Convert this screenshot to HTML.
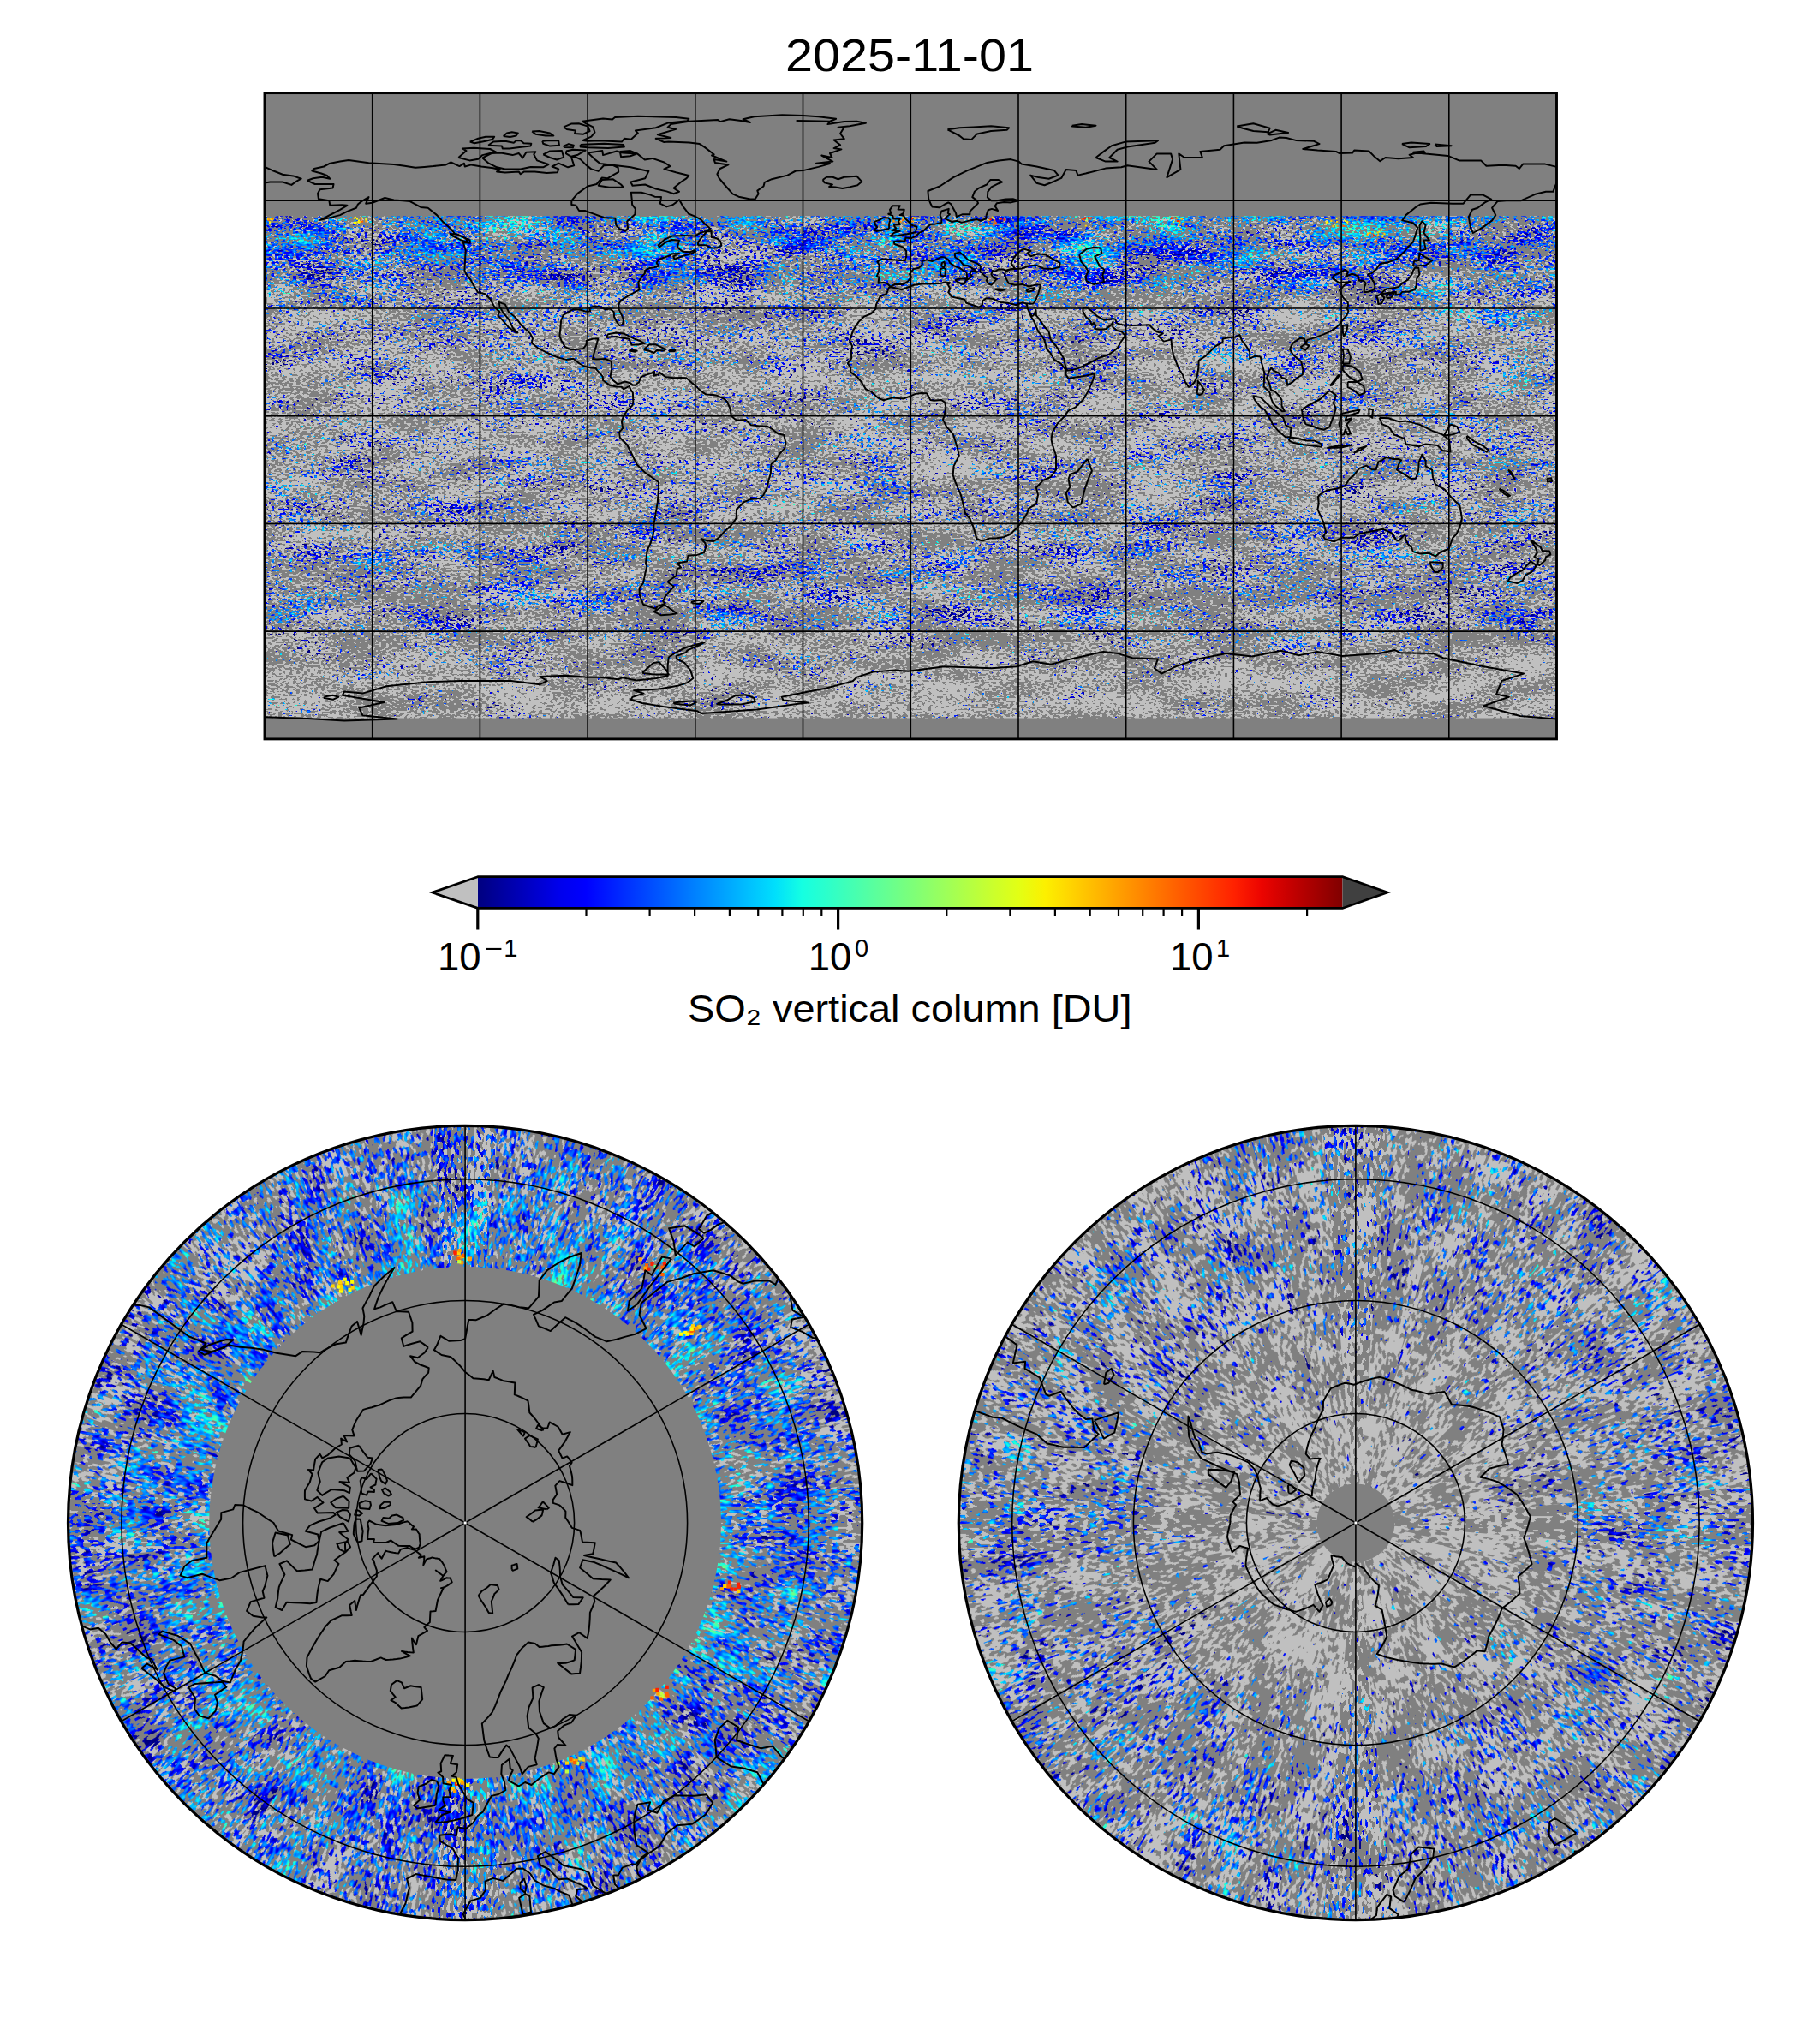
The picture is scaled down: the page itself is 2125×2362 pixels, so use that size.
<!DOCTYPE html>
<html><head><meta charset="utf-8"><title>SO2 2025-11-01</title>
<style>html,body{margin:0;padding:0;background:#fff;} svg{display:block;}</style></head>
<body>
<svg width="2125" height="2362" viewBox="0 0 2125 2362">
<defs>
<filter id="tex" x="0" y="0" width="1" height="1" color-interpolation-filters="sRGB">
  <feTurbulence type="fractalNoise" baseFrequency="0.24 0.42" numOctaves="1" seed="3" result="tf"/>
  <feTurbulence type="fractalNoise" baseFrequency="0.012 0.04" numOctaves="3" seed="7" result="tc"/>
  <feColorMatrix in="tf" type="matrix" values="0 0 0 1 0  1 0 0 0 0  0 0.5 0 0 0.25  0 0 0 0 1" result="F"/>
  <feColorMatrix in="tc" type="matrix" values="0 0 0 0.45 0.275  0.45 0 0 0 0.275  0 0.5 0 0 0.25  0 0 0 0 1" result="C"/>
  <feComposite in="F" in2="C" operator="arithmetic" k2="1" k3="1" k4="-0.5" result="N"/>
  <feComposite in="N" in2="SourceGraphic" operator="arithmetic" k2="1" k3="1" k4="-0.5" result="S"/>
  <feColorMatrix in="S" type="matrix" values="0 0 0 0 0.7529  0 0 0 0 0.7529  0 0 0 0 0.7529  1 0 0 0 0" result="lgA"/>
  <feComponentTransfer in="lgA" result="lg"><feFuncA type="discrete" tableValues="0 1"/></feComponentTransfer>
  <feColorMatrix in="S" type="matrix" values="0 0 1 0 0  0 0 1 0 0  0 0 1 0 0  0 1 0 0 0" result="cA"/>
  <feComponentTransfer in="cA" result="col">
    <feFuncR type="table" tableValues="0.000 0.000 0.000 0.000 0.000 0.000 0.000 0.000 0.000 0.000 0.000 0.000 0.000 0.000 0.000 0.000 0.000 0.000 0.000 0.000 0.000 0.000 0.000 0.000 0.000 0.000 0.000 0.000 0.000 0.000 0.000 0.000 0.000 0.000 0.000 0.000 0.032 0.065 0.097 0.129 0.161 0.194 0.226 0.258 0.290 0.323 0.355 0.387 0.419 0.452 0.484 0.516 0.548 0.581 0.613 0.645 0.677 0.710 0.742 0.774 0.806 0.839 0.871 0.903 0.935 0.968 1.000 1.000 1.000 1.000 1.000 1.000 1.000 1.000 1.000 1.000 1.000 1.000 1.000 1.000 1.000 1.000 1.000 1.000 1.000 1.000 1.000 1.000 1.000 1.000 0.955 0.909 0.864 0.818 0.773 0.727 0.682 0.636 0.591 0.545 0.500"/>
    <feFuncG type="table" tableValues="0.000 0.000 0.000 0.000 0.000 0.000 0.000 0.000 0.000 0.000 0.000 0.000 0.000 0.020 0.060 0.100 0.140 0.180 0.220 0.260 0.300 0.340 0.380 0.420 0.460 0.500 0.540 0.580 0.620 0.660 0.700 0.740 0.780 0.820 0.860 0.900 0.940 0.980 1.000 1.000 1.000 1.000 1.000 1.000 1.000 1.000 1.000 1.000 1.000 1.000 1.000 1.000 1.000 1.000 1.000 1.000 1.000 1.000 1.000 1.000 1.000 1.000 1.000 1.000 1.000 0.963 0.926 0.889 0.852 0.815 0.778 0.741 0.704 0.667 0.630 0.593 0.556 0.519 0.481 0.444 0.407 0.370 0.333 0.296 0.259 0.222 0.185 0.148 0.111 0.074 0.037 0.000 0.000 0.000 0.000 0.000 0.000 0.000 0.000 0.000 0.000"/>
    <feFuncB type="table" tableValues="0.500 0.545 0.591 0.636 0.682 0.727 0.773 0.818 0.864 0.909 0.955 1.000 1.000 1.000 1.000 1.000 1.000 1.000 1.000 1.000 1.000 1.000 1.000 1.000 1.000 1.000 1.000 1.000 1.000 1.000 1.000 1.000 1.000 1.000 1.000 0.968 0.935 0.903 0.871 0.839 0.806 0.774 0.742 0.710 0.677 0.645 0.613 0.581 0.548 0.516 0.484 0.452 0.419 0.387 0.355 0.323 0.290 0.258 0.226 0.194 0.161 0.129 0.097 0.065 0.032 0.000 0.000 0.000 0.000 0.000 0.000 0.000 0.000 0.000 0.000 0.000 0.000 0.000 0.000 0.000 0.000 0.000 0.000 0.000 0.000 0.000 0.000 0.000 0.000 0.000 0.000 0.000 0.000 0.000 0.000 0.000 0.000 0.000 0.000 0.000 0.000"/>
    <feFuncA type="discrete" tableValues="0 1"/>
  </feComponentTransfer>
  <feFlood flood-color="#808080" result="bg"/>
  <feMerge><feMergeNode in="bg"/><feMergeNode in="lg"/><feMergeNode in="col"/></feMerge>
</filter>
<filter id="texN" x="0" y="0" width="1" height="1" color-interpolation-filters="sRGB">
  <feTurbulence type="fractalNoise" baseFrequency="0.26 0.12" numOctaves="1" seed="5" result="tf"/>
  <feTurbulence type="fractalNoise" baseFrequency="0.026 0.017" numOctaves="3" seed="9" result="tc"/>
  <feColorMatrix in="tf" type="matrix" values="0 0 0 1 0  1 0 0 0 0  0 0.5 0 0 0.25  0 0 0 0 1" result="F"/>
  <feColorMatrix in="tc" type="matrix" values="0 0 0 0.6 0.200  0.36 0 0 0 0.320  0 0.5 0 0 0.25  0 0 0 0 1" result="C"/>
  <feComposite in="F" in2="C" operator="arithmetic" k2="1" k3="1" k4="-0.5" result="N"/>
  <feComposite in="N" in2="SourceGraphic" operator="arithmetic" k2="1" k3="1" k4="-0.5" result="S"/>
  <feColorMatrix in="S" type="matrix" values="0 0 0 0 0.7529  0 0 0 0 0.7529  0 0 0 0 0.7529  1 0 0 0 0" result="lgA"/>
  <feComponentTransfer in="lgA" result="lg"><feFuncA type="discrete" tableValues="0 1"/></feComponentTransfer>
  <feColorMatrix in="S" type="matrix" values="0 0 1 0 0  0 0 1 0 0  0 0 1 0 0  0 1 0 0 0" result="cA"/>
  <feComponentTransfer in="cA" result="col">
    <feFuncR type="table" tableValues="0.000 0.000 0.000 0.000 0.000 0.000 0.000 0.000 0.000 0.000 0.000 0.000 0.000 0.000 0.000 0.000 0.000 0.000 0.000 0.000 0.000 0.000 0.000 0.000 0.000 0.000 0.000 0.000 0.000 0.000 0.000 0.000 0.000 0.000 0.000 0.000 0.032 0.065 0.097 0.129 0.161 0.194 0.226 0.258 0.290 0.323 0.355 0.387 0.419 0.452 0.484 0.516 0.548 0.581 0.613 0.645 0.677 0.710 0.742 0.774 0.806 0.839 0.871 0.903 0.935 0.968 1.000 1.000 1.000 1.000 1.000 1.000 1.000 1.000 1.000 1.000 1.000 1.000 1.000 1.000 1.000 1.000 1.000 1.000 1.000 1.000 1.000 1.000 1.000 1.000 0.955 0.909 0.864 0.818 0.773 0.727 0.682 0.636 0.591 0.545 0.500"/>
    <feFuncG type="table" tableValues="0.000 0.000 0.000 0.000 0.000 0.000 0.000 0.000 0.000 0.000 0.000 0.000 0.000 0.020 0.060 0.100 0.140 0.180 0.220 0.260 0.300 0.340 0.380 0.420 0.460 0.500 0.540 0.580 0.620 0.660 0.700 0.740 0.780 0.820 0.860 0.900 0.940 0.980 1.000 1.000 1.000 1.000 1.000 1.000 1.000 1.000 1.000 1.000 1.000 1.000 1.000 1.000 1.000 1.000 1.000 1.000 1.000 1.000 1.000 1.000 1.000 1.000 1.000 1.000 1.000 0.963 0.926 0.889 0.852 0.815 0.778 0.741 0.704 0.667 0.630 0.593 0.556 0.519 0.481 0.444 0.407 0.370 0.333 0.296 0.259 0.222 0.185 0.148 0.111 0.074 0.037 0.000 0.000 0.000 0.000 0.000 0.000 0.000 0.000 0.000 0.000"/>
    <feFuncB type="table" tableValues="0.500 0.545 0.591 0.636 0.682 0.727 0.773 0.818 0.864 0.909 0.955 1.000 1.000 1.000 1.000 1.000 1.000 1.000 1.000 1.000 1.000 1.000 1.000 1.000 1.000 1.000 1.000 1.000 1.000 1.000 1.000 1.000 1.000 1.000 1.000 0.968 0.935 0.903 0.871 0.839 0.806 0.774 0.742 0.710 0.677 0.645 0.613 0.581 0.548 0.516 0.484 0.452 0.419 0.387 0.355 0.323 0.290 0.258 0.226 0.194 0.161 0.129 0.097 0.065 0.032 0.000 0.000 0.000 0.000 0.000 0.000 0.000 0.000 0.000 0.000 0.000 0.000 0.000 0.000 0.000 0.000 0.000 0.000 0.000 0.000 0.000 0.000 0.000 0.000 0.000 0.000 0.000 0.000 0.000 0.000 0.000 0.000 0.000 0.000 0.000 0.000"/>
    <feFuncA type="discrete" tableValues="0 1"/>
  </feComponentTransfer>
  <feFlood flood-color="#808080" result="bg"/>
  <feMerge><feMergeNode in="bg"/><feMergeNode in="lg"/><feMergeNode in="col"/></feMerge>
</filter>
<filter id="texS" x="0" y="0" width="1" height="1" color-interpolation-filters="sRGB">
  <feTurbulence type="fractalNoise" baseFrequency="0.26 0.12" numOctaves="1" seed="13" result="tf"/>
  <feTurbulence type="fractalNoise" baseFrequency="0.026 0.017" numOctaves="3" seed="17" result="tc"/>
  <feColorMatrix in="tf" type="matrix" values="0 0 0 1 0  1 0 0 0 0  0 0.5 0 0 0.25  0 0 0 0 1" result="F"/>
  <feColorMatrix in="tc" type="matrix" values="0 0 0 0.6 0.200  0.36 0 0 0 0.320  0 0.5 0 0 0.25  0 0 0 0 1" result="C"/>
  <feComposite in="F" in2="C" operator="arithmetic" k2="1" k3="1" k4="-0.5" result="N"/>
  <feComposite in="N" in2="SourceGraphic" operator="arithmetic" k2="1" k3="1" k4="-0.5" result="S"/>
  <feColorMatrix in="S" type="matrix" values="0 0 0 0 0.7529  0 0 0 0 0.7529  0 0 0 0 0.7529  1 0 0 0 0" result="lgA"/>
  <feComponentTransfer in="lgA" result="lg"><feFuncA type="discrete" tableValues="0 1"/></feComponentTransfer>
  <feColorMatrix in="S" type="matrix" values="0 0 1 0 0  0 0 1 0 0  0 0 1 0 0  0 1 0 0 0" result="cA"/>
  <feComponentTransfer in="cA" result="col">
    <feFuncR type="table" tableValues="0.000 0.000 0.000 0.000 0.000 0.000 0.000 0.000 0.000 0.000 0.000 0.000 0.000 0.000 0.000 0.000 0.000 0.000 0.000 0.000 0.000 0.000 0.000 0.000 0.000 0.000 0.000 0.000 0.000 0.000 0.000 0.000 0.000 0.000 0.000 0.000 0.032 0.065 0.097 0.129 0.161 0.194 0.226 0.258 0.290 0.323 0.355 0.387 0.419 0.452 0.484 0.516 0.548 0.581 0.613 0.645 0.677 0.710 0.742 0.774 0.806 0.839 0.871 0.903 0.935 0.968 1.000 1.000 1.000 1.000 1.000 1.000 1.000 1.000 1.000 1.000 1.000 1.000 1.000 1.000 1.000 1.000 1.000 1.000 1.000 1.000 1.000 1.000 1.000 1.000 0.955 0.909 0.864 0.818 0.773 0.727 0.682 0.636 0.591 0.545 0.500"/>
    <feFuncG type="table" tableValues="0.000 0.000 0.000 0.000 0.000 0.000 0.000 0.000 0.000 0.000 0.000 0.000 0.000 0.020 0.060 0.100 0.140 0.180 0.220 0.260 0.300 0.340 0.380 0.420 0.460 0.500 0.540 0.580 0.620 0.660 0.700 0.740 0.780 0.820 0.860 0.900 0.940 0.980 1.000 1.000 1.000 1.000 1.000 1.000 1.000 1.000 1.000 1.000 1.000 1.000 1.000 1.000 1.000 1.000 1.000 1.000 1.000 1.000 1.000 1.000 1.000 1.000 1.000 1.000 1.000 0.963 0.926 0.889 0.852 0.815 0.778 0.741 0.704 0.667 0.630 0.593 0.556 0.519 0.481 0.444 0.407 0.370 0.333 0.296 0.259 0.222 0.185 0.148 0.111 0.074 0.037 0.000 0.000 0.000 0.000 0.000 0.000 0.000 0.000 0.000 0.000"/>
    <feFuncB type="table" tableValues="0.500 0.545 0.591 0.636 0.682 0.727 0.773 0.818 0.864 0.909 0.955 1.000 1.000 1.000 1.000 1.000 1.000 1.000 1.000 1.000 1.000 1.000 1.000 1.000 1.000 1.000 1.000 1.000 1.000 1.000 1.000 1.000 1.000 1.000 1.000 0.968 0.935 0.903 0.871 0.839 0.806 0.774 0.742 0.710 0.677 0.645 0.613 0.581 0.548 0.516 0.484 0.452 0.419 0.387 0.355 0.323 0.290 0.258 0.226 0.194 0.161 0.129 0.097 0.065 0.032 0.000 0.000 0.000 0.000 0.000 0.000 0.000 0.000 0.000 0.000 0.000 0.000 0.000 0.000 0.000 0.000 0.000 0.000 0.000 0.000 0.000 0.000 0.000 0.000 0.000 0.000 0.000 0.000 0.000 0.000 0.000 0.000 0.000 0.000 0.000 0.000"/>
    <feFuncA type="discrete" tableValues="0 1"/>
  </feComponentTransfer>
  <feFlood flood-color="#808080" result="bg"/>
  <feMerge><feMergeNode in="bg"/><feMergeNode in="lg"/><feMergeNode in="col"/></feMerge>
</filter>
<linearGradient id="gpc" x1="0" y1="0" x2="0" y2="1"><stop offset="0.1906" stop-color="rgb(40.5%,48.6%,26.0%)"/><stop offset="0.2044" stop-color="rgb(41.4%,49.2%,22.3%)"/><stop offset="0.2183" stop-color="rgb(41.7%,49.2%,20.9%)"/><stop offset="0.2322" stop-color="rgb(42.1%,48.9%,20.1%)"/><stop offset="0.2461" stop-color="rgb(43.9%,48.3%,19.4%)"/><stop offset="0.2600" stop-color="rgb(45.4%,47.5%,18.8%)"/><stop offset="0.2739" stop-color="rgb(45.9%,44.8%,18.5%)"/><stop offset="0.2878" stop-color="rgb(46.3%,43.9%,18.5%)"/><stop offset="0.3017" stop-color="rgb(46.8%,42.9%,18.2%)"/><stop offset="0.3156" stop-color="rgb(47.4%,40.1%,17.7%)"/><stop offset="0.3294" stop-color="rgb(48.4%,38.6%,17.3%)"/><stop offset="0.3433" stop-color="rgb(49.5%,37.4%,17.0%)"/><stop offset="0.3572" stop-color="rgb(50.3%,36.3%,16.6%)"/><stop offset="0.3711" stop-color="rgb(50.6%,35.8%,16.4%)"/><stop offset="0.3850" stop-color="rgb(50.8%,35.6%,16.2%)"/><stop offset="0.3989" stop-color="rgb(50.9%,35.4%,16.0%)"/><stop offset="0.4128" stop-color="rgb(51.1%,35.2%,15.9%)"/><stop offset="0.4267" stop-color="rgb(51.3%,35.0%,15.7%)"/><stop offset="0.4406" stop-color="rgb(51.5%,34.1%,15.5%)"/><stop offset="0.4544" stop-color="rgb(51.5%,33.8%,15.5%)"/><stop offset="0.4683" stop-color="rgb(51.4%,33.8%,15.5%)"/><stop offset="0.4822" stop-color="rgb(51.4%,33.8%,15.5%)"/><stop offset="0.4961" stop-color="rgb(51.4%,33.8%,15.5%)"/><stop offset="0.5100" stop-color="rgb(51.3%,33.8%,15.5%)"/><stop offset="0.5239" stop-color="rgb(51.3%,33.8%,15.5%)"/><stop offset="0.5378" stop-color="rgb(51.3%,33.8%,15.5%)"/><stop offset="0.5517" stop-color="rgb(51.2%,33.8%,15.5%)"/><stop offset="0.5656" stop-color="rgb(51.1%,34.3%,15.6%)"/><stop offset="0.5794" stop-color="rgb(51.0%,34.9%,15.6%)"/><stop offset="0.5933" stop-color="rgb(50.8%,35.1%,15.7%)"/><stop offset="0.6072" stop-color="rgb(50.6%,35.2%,15.8%)"/><stop offset="0.6211" stop-color="rgb(50.5%,35.4%,15.9%)"/><stop offset="0.6350" stop-color="rgb(50.3%,35.5%,16.0%)"/><stop offset="0.6489" stop-color="rgb(50.0%,35.8%,16.2%)"/><stop offset="0.6628" stop-color="rgb(49.3%,36.2%,16.4%)"/><stop offset="0.6767" stop-color="rgb(48.6%,36.6%,16.7%)"/><stop offset="0.6906" stop-color="rgb(47.9%,37.0%,16.9%)"/><stop offset="0.7044" stop-color="rgb(47.4%,37.3%,17.0%)"/><stop offset="0.7183" stop-color="rgb(47.2%,37.7%,17.0%)"/><stop offset="0.7322" stop-color="rgb(47.0%,38.0%,17.0%)"/><stop offset="0.7461" stop-color="rgb(46.8%,38.3%,17.0%)"/><stop offset="0.7600" stop-color="rgb(46.8%,38.4%,17.0%)"/><stop offset="0.7739" stop-color="rgb(46.8%,38.4%,17.0%)"/><stop offset="0.7878" stop-color="rgb(46.8%,38.4%,17.0%)"/><stop offset="0.8017" stop-color="rgb(46.8%,38.4%,17.0%)"/><stop offset="0.8156" stop-color="rgb(46.9%,37.5%,16.6%)"/><stop offset="0.8294" stop-color="rgb(47.2%,36.3%,16.1%)"/><stop offset="0.8433" stop-color="rgb(47.4%,33.5%,15.6%)"/><stop offset="0.8572" stop-color="rgb(47.6%,30.4%,14.9%)"/><stop offset="0.8711" stop-color="rgb(49.4%,29.5%,14.5%)"/><stop offset="0.8850" stop-color="rgb(50.7%,28.3%,14.1%)"/><stop offset="0.8989" stop-color="rgb(51.2%,27.8%,14.0%)"/><stop offset="0.9128" stop-color="rgb(51.5%,27.4%,14.0%)"/><stop offset="0.9267" stop-color="rgb(51.8%,26.4%,14.0%)"/><stop offset="0.9406" stop-color="rgb(51.7%,25.9%,14.0%)"/><stop offset="0.9544" stop-color="rgb(51.3%,25.9%,14.0%)"/><stop offset="0.9678" stop-color="rgb(50.8%,25.9%,14.0%)"/></linearGradient>
<radialGradient id="gN" cx="0.5" cy="0.5" r="0.5"><stop offset="0.6447" stop-color="rgb(39.7%,48.0%,26.0%)"/><stop offset="0.6748" stop-color="rgb(40.8%,48.7%,23.6%)"/><stop offset="0.7052" stop-color="rgb(41.4%,49.0%,22.0%)"/><stop offset="0.7358" stop-color="rgb(41.7%,49.0%,21.2%)"/><stop offset="0.7666" stop-color="rgb(42.1%,48.9%,20.4%)"/><stop offset="0.7978" stop-color="rgb(42.5%,48.4%,20.1%)"/><stop offset="0.8293" stop-color="rgb(44.0%,48.0%,19.7%)"/><stop offset="0.8611" stop-color="rgb(45.1%,47.4%,19.3%)"/><stop offset="0.8933" stop-color="rgb(45.4%,46.5%,18.9%)"/><stop offset="0.9259" stop-color="rgb(45.6%,45.6%,18.6%)"/><stop offset="0.9588" stop-color="rgb(45.8%,44.9%,18.5%)"/><stop offset="0.9921" stop-color="rgb(46.1%,44.2%,18.5%)"/><stop offset="1.0000" stop-color="rgb(46.2%,43.6%,18.5%)"/></radialGradient>
<radialGradient id="gS" cx="0.5" cy="0.5" r="0.5"><stop offset="0.1058" stop-color="rgb(50.5%,26.4%,14.0%)"/><stop offset="0.1424" stop-color="rgb(51.3%,26.4%,14.0%)"/><stop offset="0.1791" stop-color="rgb(52.0%,26.4%,14.0%)"/><stop offset="0.2159" stop-color="rgb(52.6%,26.4%,14.0%)"/><stop offset="0.2528" stop-color="rgb(52.4%,27.0%,14.0%)"/><stop offset="0.2899" stop-color="rgb(51.9%,27.6%,14.0%)"/><stop offset="0.3272" stop-color="rgb(51.4%,27.9%,14.0%)"/><stop offset="0.3646" stop-color="rgb(50.9%,28.2%,14.0%)"/><stop offset="0.4023" stop-color="rgb(49.5%,29.5%,14.3%)"/><stop offset="0.4403" stop-color="rgb(48.2%,30.4%,14.6%)"/><stop offset="0.4785" stop-color="rgb(47.3%,31.1%,15.0%)"/><stop offset="0.5170" stop-color="rgb(47.1%,33.3%,15.4%)"/><stop offset="0.5559" stop-color="rgb(47.1%,35.7%,16.0%)"/><stop offset="0.5952" stop-color="rgb(46.9%,37.3%,16.4%)"/><stop offset="0.6348" stop-color="rgb(46.7%,38.6%,16.8%)"/><stop offset="0.6748" stop-color="rgb(46.6%,39.3%,17.0%)"/><stop offset="0.7153" stop-color="rgb(46.6%,39.3%,17.0%)"/><stop offset="0.7563" stop-color="rgb(46.6%,39.3%,17.0%)"/><stop offset="0.7978" stop-color="rgb(46.6%,39.3%,17.0%)"/><stop offset="0.8399" stop-color="rgb(46.6%,39.3%,17.0%)"/><stop offset="0.8826" stop-color="rgb(46.7%,39.2%,17.0%)"/><stop offset="0.9259" stop-color="rgb(46.8%,38.9%,17.0%)"/><stop offset="0.9698" stop-color="rgb(46.9%,38.6%,17.0%)"/><stop offset="1.0000" stop-color="rgb(47.1%,38.2%,17.0%)"/><stop offset="1.0000" stop-color="rgb(47.1%,38.2%,17.0%)"/></radialGradient>
<linearGradient id="gNy" x1="0" y1="0" x2="0" y2="1"><stop offset="0.0000" stop-color="rgb(46.2%,43.6%,18.5%)"/><stop offset="0.0079" stop-color="rgb(46.1%,44.2%,18.5%)"/><stop offset="0.0412" stop-color="rgb(45.8%,44.9%,18.5%)"/><stop offset="0.0741" stop-color="rgb(45.6%,45.6%,18.6%)"/><stop offset="0.1067" stop-color="rgb(45.4%,46.5%,18.9%)"/><stop offset="0.1389" stop-color="rgb(45.1%,47.4%,19.3%)"/><stop offset="0.1707" stop-color="rgb(44.0%,48.0%,19.7%)"/><stop offset="0.2022" stop-color="rgb(42.5%,48.4%,20.1%)"/><stop offset="0.2334" stop-color="rgb(42.1%,48.9%,20.4%)"/><stop offset="0.2642" stop-color="rgb(41.7%,49.0%,21.2%)"/><stop offset="0.2948" stop-color="rgb(41.4%,49.0%,22.0%)"/><stop offset="0.3252" stop-color="rgb(40.8%,48.7%,23.6%)"/><stop offset="0.3553" stop-color="rgb(39.7%,48.0%,26.0%)"/></linearGradient>
<linearGradient id="gSy" x1="0" y1="0" x2="0" y2="1"><stop offset="0.0000" stop-color="rgb(47.1%,38.2%,17.0%)"/><stop offset="0.0000" stop-color="rgb(47.1%,38.2%,17.0%)"/><stop offset="0.0302" stop-color="rgb(46.9%,38.6%,17.0%)"/><stop offset="0.0741" stop-color="rgb(46.8%,38.9%,17.0%)"/><stop offset="0.1174" stop-color="rgb(46.7%,39.2%,17.0%)"/><stop offset="0.1601" stop-color="rgb(46.6%,39.3%,17.0%)"/><stop offset="0.2022" stop-color="rgb(46.6%,39.3%,17.0%)"/><stop offset="0.2437" stop-color="rgb(46.6%,39.3%,17.0%)"/><stop offset="0.2847" stop-color="rgb(46.6%,39.3%,17.0%)"/><stop offset="0.3252" stop-color="rgb(46.6%,39.3%,17.0%)"/><stop offset="0.3652" stop-color="rgb(46.7%,38.6%,16.8%)"/><stop offset="0.4048" stop-color="rgb(46.9%,37.3%,16.4%)"/><stop offset="0.4441" stop-color="rgb(47.1%,35.7%,16.0%)"/><stop offset="0.4830" stop-color="rgb(47.1%,33.3%,15.4%)"/><stop offset="0.5215" stop-color="rgb(47.3%,31.1%,15.0%)"/><stop offset="0.5597" stop-color="rgb(48.2%,30.4%,14.6%)"/><stop offset="0.5977" stop-color="rgb(49.5%,29.5%,14.3%)"/><stop offset="0.6354" stop-color="rgb(50.9%,28.2%,14.0%)"/><stop offset="0.6728" stop-color="rgb(51.4%,27.9%,14.0%)"/><stop offset="0.7101" stop-color="rgb(51.9%,27.6%,14.0%)"/><stop offset="0.7472" stop-color="rgb(52.4%,27.0%,14.0%)"/><stop offset="0.7841" stop-color="rgb(52.6%,26.4%,14.0%)"/><stop offset="0.8209" stop-color="rgb(52.0%,26.4%,14.0%)"/><stop offset="0.8576" stop-color="rgb(51.3%,26.4%,14.0%)"/><stop offset="0.8942" stop-color="rgb(50.5%,26.4%,14.0%)"/></linearGradient>
<clipPath id="wedge" clipPathUnits="objectBoundingBox"><path d="M0.5 1L0.1092 0L0.8908 0Z"/></clipPath>
<linearGradient id="gjet" x1="0" y1="0" x2="1" y2="0"><stop offset="0.0000" stop-color="rgb(0,0,128)"/><stop offset="0.0312" stop-color="rgb(0,0,164)"/><stop offset="0.0625" stop-color="rgb(0,0,200)"/><stop offset="0.0938" stop-color="rgb(0,0,236)"/><stop offset="0.1250" stop-color="rgb(0,0,255)"/><stop offset="0.1562" stop-color="rgb(0,32,255)"/><stop offset="0.1875" stop-color="rgb(0,64,255)"/><stop offset="0.2188" stop-color="rgb(0,96,255)"/><stop offset="0.2500" stop-color="rgb(0,128,255)"/><stop offset="0.2812" stop-color="rgb(0,159,255)"/><stop offset="0.3125" stop-color="rgb(0,191,255)"/><stop offset="0.3438" stop-color="rgb(0,223,252)"/><stop offset="0.3750" stop-color="rgb(21,255,226)"/><stop offset="0.4062" stop-color="rgb(46,255,201)"/><stop offset="0.4375" stop-color="rgb(72,255,175)"/><stop offset="0.4688" stop-color="rgb(98,255,149)"/><stop offset="0.5000" stop-color="rgb(123,255,123)"/><stop offset="0.5312" stop-color="rgb(149,255,98)"/><stop offset="0.5625" stop-color="rgb(175,255,72)"/><stop offset="0.5938" stop-color="rgb(201,255,46)"/><stop offset="0.6250" stop-color="rgb(226,255,21)"/><stop offset="0.6562" stop-color="rgb(252,240,0)"/><stop offset="0.6875" stop-color="rgb(255,210,0)"/><stop offset="0.7188" stop-color="rgb(255,181,0)"/><stop offset="0.7500" stop-color="rgb(255,151,0)"/><stop offset="0.7812" stop-color="rgb(255,122,0)"/><stop offset="0.8125" stop-color="rgb(255,92,0)"/><stop offset="0.8438" stop-color="rgb(255,63,0)"/><stop offset="0.8750" stop-color="rgb(255,33,0)"/><stop offset="0.9062" stop-color="rgb(236,4,0)"/><stop offset="0.9375" stop-color="rgb(200,0,0)"/><stop offset="0.9688" stop-color="rgb(164,0,0)"/><stop offset="1.0000" stop-color="rgb(128,0,0)"/></linearGradient>
<clipPath id="cpc"><rect x="309.0" y="108.6" width="1508.5" height="754.3"/></clipPath>
<clipPath id="cN"><circle cx="543.1" cy="1778.0" r="463.6"/></clipPath>
<clipPath id="cS"><circle cx="1582.9" cy="1778.0" r="463.6"/></clipPath>
</defs>
<rect width="2125" height="2362" fill="#fff"/>
<text x="917.0" y="82.6" font-family="Liberation Sans, sans-serif" font-size="54" textLength="290" lengthAdjust="spacingAndGlyphs" fill="#000">2025-11-01</text>
<g clip-path="url(#cpc)">
<rect x="309.0" y="108.6" width="1508.5" height="754.3" fill="#808080"/>
<svg x="309.0" y="252.3" width="1508.5" height="586.2" viewBox="0 143.7 1508.5 586.2" preserveAspectRatio="none" overflow="hidden">
<rect x="0" y="0" width="1508.5" height="754.3" fill="url(#gpc)" filter="url(#tex)"/>
</svg>
<rect x="311.7" y="254.9" width="2.1" height="2.1" fill="#ffd200"/><rect x="316.8" y="255.0" width="2.1" height="2.1" fill="#ffff00"/><rect x="314.6" y="254.5" width="2.1" height="2.1" fill="#ffd200"/><rect x="313.3" y="256.3" width="2.1" height="2.1" fill="#ff6000"/><rect x="316.5" y="255.9" width="2.1" height="2.1" fill="#ffd200"/><rect x="306.5" y="256.4" width="2.1" height="2.1" fill="#ff6000"/><rect x="312.8" y="255.1" width="2.1" height="2.1" fill="#ffa000"/><rect x="303.9" y="254.4" width="2.1" height="2.1" fill="#ffa000"/><rect x="317.8" y="254.6" width="2.1" height="2.1" fill="#ffa000"/><rect x="314.1" y="258.3" width="2.1" height="2.1" fill="#ffff00"/><rect x="316.0" y="254.2" width="2.1" height="2.1" fill="#ffff00"/><rect x="309.0" y="253.6" width="2.1" height="2.1" fill="#ff6000"/><rect x="316.6" y="253.9" width="2.1" height="2.1" fill="#ff6000"/><rect x="306.6" y="255.2" width="2.1" height="2.1" fill="#ffd200"/><rect x="418.4" y="258.4" width="2.1" height="2.1" fill="#ffd200"/><rect x="419.8" y="257.8" width="2.1" height="2.1" fill="#ffd200"/><rect x="413.9" y="252.9" width="2.1" height="2.1" fill="#ffff00"/><rect x="420.7" y="254.6" width="2.1" height="2.1" fill="#ff6000"/><rect x="412.8" y="253.8" width="2.1" height="2.1" fill="#ffd200"/><rect x="426.2" y="257.3" width="2.1" height="2.1" fill="#ffa000"/><rect x="426.3" y="255.2" width="2.1" height="2.1" fill="#ffff00"/><rect x="414.5" y="258.9" width="2.1" height="2.1" fill="#ffff00"/><rect x="417.9" y="256.4" width="2.1" height="2.1" fill="#ffff00"/><rect x="422.0" y="257.6" width="2.1" height="2.1" fill="#ff6000"/><rect x="421.4" y="253.3" width="2.1" height="2.1" fill="#ffff00"/><rect x="412.7" y="258.9" width="2.1" height="2.1" fill="#ffff00"/><rect x="417.3" y="258.2" width="2.1" height="2.1" fill="#ffff00"/><rect x="415.9" y="254.6" width="2.1" height="2.1" fill="#ffff00"/><rect x="1053.2" y="256.0" width="2.1" height="2.1" fill="#ff6000"/><rect x="1056.5" y="255.4" width="2.1" height="2.1" fill="#ffa000"/><rect x="1063.1" y="257.7" width="2.1" height="2.1" fill="#ffa000"/><rect x="1050.5" y="257.8" width="2.1" height="2.1" fill="#ffa000"/><rect x="1064.0" y="254.4" width="2.1" height="2.1" fill="#ff2000"/><rect x="1054.4" y="260.2" width="2.1" height="2.1" fill="#ffa000"/><rect x="1053.5" y="253.8" width="2.1" height="2.1" fill="#ffd200"/><rect x="1065.1" y="257.4" width="2.1" height="2.1" fill="#ffa000"/><rect x="1042.3" y="257.1" width="2.1" height="2.1" fill="#ffa000"/><rect x="1053.3" y="253.3" width="2.1" height="2.1" fill="#ffd200"/><rect x="1066.9" y="253.7" width="2.1" height="2.1" fill="#ffd200"/><rect x="1064.8" y="252.9" width="2.1" height="2.1" fill="#ffd200"/><rect x="1057.2" y="253.9" width="2.1" height="2.1" fill="#ffa000"/><rect x="1049.3" y="257.7" width="2.1" height="2.1" fill="#ffa000"/><rect x="1171.2" y="255.5" width="2.1" height="2.1" fill="#ff2000"/><rect x="1149.7" y="254.1" width="2.1" height="2.1" fill="#ff6000"/><rect x="1168.0" y="254.4" width="2.1" height="2.1" fill="#ff2000"/><rect x="1161.0" y="260.0" width="2.1" height="2.1" fill="#ff6000"/><rect x="1157.8" y="252.6" width="2.1" height="2.1" fill="#ffd200"/><rect x="1158.7" y="253.8" width="2.1" height="2.1" fill="#c0ff40"/><rect x="1153.8" y="255.7" width="2.1" height="2.1" fill="#ffd200"/><rect x="1155.1" y="255.4" width="2.1" height="2.1" fill="#ff6000"/><rect x="1166.2" y="254.3" width="2.1" height="2.1" fill="#ffd200"/><rect x="1160.2" y="256.4" width="2.1" height="2.1" fill="#ff6000"/><rect x="1153.3" y="258.6" width="2.1" height="2.1" fill="#ff6000"/><rect x="1161.7" y="259.1" width="2.1" height="2.1" fill="#ff6000"/><rect x="1159.2" y="262.3" width="2.1" height="2.1" fill="#ff6000"/><rect x="1155.7" y="254.9" width="2.1" height="2.1" fill="#ff2000"/><rect x="1267.5" y="256.4" width="2.1" height="2.1" fill="#c0ff40"/><rect x="1263.7" y="254.5" width="2.1" height="2.1" fill="#ff2000"/><rect x="1268.2" y="253.3" width="2.1" height="2.1" fill="#c0ff40"/><rect x="1270.4" y="253.7" width="2.1" height="2.1" fill="#ff2000"/><rect x="1265.6" y="254.2" width="2.1" height="2.1" fill="#ff2000"/><rect x="1266.5" y="253.4" width="2.1" height="2.1" fill="#ff2000"/><rect x="1269.7" y="253.2" width="2.1" height="2.1" fill="#ff2000"/><rect x="1272.9" y="253.4" width="2.1" height="2.1" fill="#ff2000"/><rect x="1266.8" y="262.7" width="2.1" height="2.1" fill="#ffd200"/><rect x="1271.0" y="253.4" width="2.1" height="2.1" fill="#ff6000"/><rect x="1278.2" y="254.5" width="2.1" height="2.1" fill="#60ffa0"/><rect x="1264.1" y="255.8" width="2.1" height="2.1" fill="#ff6000"/><rect x="1262.7" y="254.7" width="2.1" height="2.1" fill="#ff6000"/><rect x="1268.0" y="254.9" width="2.1" height="2.1" fill="#60ffa0"/><rect x="1375.0" y="261.8" width="2.1" height="2.1" fill="#ffd200"/><rect x="1377.8" y="266.9" width="2.1" height="2.1" fill="#ffd200"/><rect x="1367.0" y="253.5" width="2.1" height="2.1" fill="#ff6000"/><rect x="1380.2" y="260.1" width="2.1" height="2.1" fill="#ffa000"/><rect x="1366.4" y="253.9" width="2.1" height="2.1" fill="#ff2000"/><rect x="1378.8" y="254.7" width="2.1" height="2.1" fill="#ffa000"/><rect x="1384.4" y="263.2" width="2.1" height="2.1" fill="#ff6000"/><rect x="1377.9" y="253.9" width="2.1" height="2.1" fill="#ffd200"/><rect x="1376.3" y="257.3" width="2.1" height="2.1" fill="#ff6000"/><rect x="1373.1" y="253.8" width="2.1" height="2.1" fill="#ffa000"/><rect x="1369.1" y="257.8" width="2.1" height="2.1" fill="#ffff00"/><rect x="1374.0" y="257.1" width="2.1" height="2.1" fill="#ff2000"/><rect x="1376.4" y="259.1" width="2.1" height="2.1" fill="#ffa000"/><rect x="1371.5" y="253.1" width="2.1" height="2.1" fill="#ff2000"/><rect x="1613.3" y="274.1" width="2.1" height="2.1" fill="#c0ff40"/><rect x="1607.1" y="274.5" width="2.1" height="2.1" fill="#ffa000"/><rect x="1606.0" y="280.6" width="2.1" height="2.1" fill="#ff6000"/><rect x="1598.9" y="270.9" width="2.1" height="2.1" fill="#ffa000"/><rect x="1612.0" y="267.4" width="2.1" height="2.1" fill="#ffff00"/><rect x="1595.9" y="272.0" width="2.1" height="2.1" fill="#ffd200"/><rect x="1609.4" y="269.5" width="2.1" height="2.1" fill="#ffff00"/><rect x="1595.2" y="273.5" width="2.1" height="2.1" fill="#ffa000"/><rect x="1613.3" y="275.1" width="2.1" height="2.1" fill="#ffd200"/><rect x="1615.4" y="271.8" width="2.1" height="2.1" fill="#ffd200"/><rect x="1604.2" y="270.2" width="2.1" height="2.1" fill="#ffff00"/><rect x="1608.2" y="273.2" width="2.1" height="2.1" fill="#ffd200"/><rect x="1603.0" y="273.6" width="2.1" height="2.1" fill="#ff2000"/><rect x="1607.5" y="270.5" width="2.1" height="2.1" fill="#ffd200"/><rect x="1559.6" y="254.0" width="2.1" height="2.1" fill="#ffff00"/><rect x="1560.4" y="262.6" width="2.1" height="2.1" fill="#ffa000"/><rect x="1566.2" y="253.4" width="2.1" height="2.1" fill="#ffd200"/><rect x="1553.2" y="257.1" width="2.1" height="2.1" fill="#ffd200"/><rect x="1555.4" y="263.2" width="2.1" height="2.1" fill="#ffd200"/><rect x="1548.6" y="258.0" width="2.1" height="2.1" fill="#ffff00"/><rect x="1560.0" y="257.7" width="2.1" height="2.1" fill="#ffd200"/><rect x="1547.8" y="253.9" width="2.1" height="2.1" fill="#ffd200"/><rect x="1567.8" y="262.9" width="2.1" height="2.1" fill="#ff6000"/><rect x="1547.7" y="258.8" width="2.1" height="2.1" fill="#ffff00"/><rect x="1569.7" y="256.9" width="2.1" height="2.1" fill="#ffff00"/><rect x="1572.1" y="258.3" width="2.1" height="2.1" fill="#ffff00"/><rect x="1561.8" y="253.4" width="2.1" height="2.1" fill="#ffd200"/><rect x="1557.2" y="260.9" width="2.1" height="2.1" fill="#ffff00"/>
<path d="M1098.5 322.3 L1103.5 321.9 L1104.3 314.3 L1101.8 312.9 L1097.6 314.3 L1098.5 322.3M1099.3 310.2 L1101.8 312.2 L1103.3 309.3 L1102.6 305.5 L1099.7 307.2 L1099.3 310.2M1115.2 327.3 L1119.0 325.7 L1128.6 325.2 L1126.5 330.7 L1123.2 331.9 L1115.2 327.3M1161.7 337.8 L1165.9 337.4 L1173.5 338.2 L1168.0 339.5 L1161.7 337.8M1198.6 340.3 L1201.5 340.7 L1206.1 339.1 L1208.2 336.1 L1201.5 337.4 L1198.6 339.1 L1198.6 340.3M1750.5 570.4 L1756.7 573.7 L1763.0 578.8 L1760.9 579.6 L1752.6 573.7 L1750.5 570.4M1806.2 559.1 L1811.2 558.2 L1812.1 562.0 L1807.0 562.4 L1806.2 559.1M1760.9 548.6 L1763.9 550.7 L1766.4 554.9 L1768.5 559.1 L1765.1 554.4 L1760.9 548.6M1693.5 495.4 L1701.4 498.3 L1704.4 504.6 L1695.2 507.5 L1685.9 508.4 L1693.5 495.4M1712.8 508.8 L1721.1 515.1 L1731.6 520.5 L1737.9 525.5 L1735.8 527.6 L1727.4 523.4 L1719.0 519.2 L1712.8 511.7 L1712.8 508.8M1479.8 156.4 L1489.4 151.8 L1504.1 155.1 L1482.7 157.6 L1479.8 156.4M1675.5 168.5 L1694.7 170.2 L1677.6 171.0 L1675.5 168.5M1649.9 177.7 L1662.5 176.5 L1663.7 178.6 L1650.7 179.0 L1649.9 177.7M1251.8 146.7 L1263.1 145.1 L1279.5 146.7 L1267.7 148.8 L1251.8 147.6 L1251.8 146.7M548.7 165.6 L558.3 161.8 L567.1 159.7 L577.2 159.7 L575.1 162.7 L567.1 164.8 L554.1 167.3 L548.7 165.6M587.7 158.9 L591.8 155.5 L597.7 154.3 L604.8 155.5 L602.7 158.5 L595.6 160.1 L587.7 158.9M621.2 153.4 L629.6 153.0 L642.1 155.5 L646.3 158.5 L637.1 158.5 L625.4 156.8 L621.2 153.4M633.3 164.8 L641.3 163.9 L652.2 164.3 L653.0 169.8 L642.1 170.6 L634.2 167.7 L633.3 164.8M658.1 170.6 L663.9 168.1 L669.8 169.8 L668.9 172.3 L658.9 171.9 L658.1 170.6M723.8 176.9 L736.0 176.1 L744.0 179.4 L736.0 182.3 L725.1 183.2 L723.8 176.9M358.9 210.8 L365.6 208.3 L376.0 206.7 L385.3 208.7 L381.9 205.0 L375.2 202.5 L364.3 199.5 L366.8 197.0 L378.1 194.5 L384.4 191.1 L397.0 188.6 L407.1 187.0 L417.9 188.6 L430.5 190.3 L443.1 191.1 L459.9 192.0 L472.4 193.7 L485.0 195.8 L495.5 194.9 L505.9 194.1 L520.6 192.4 L526.5 189.5 L536.5 194.1 L542.0 190.7 L542.8 194.5 L550.4 192.4 L562.1 194.5 L575.9 196.2 L583.9 198.3 L580.1 200.4 L589.8 201.6 L605.7 200.4 L607.8 203.3 L612.0 200.4 L624.5 200.4 L638.4 202.0 L650.9 201.2 L652.2 197.4 L644.6 194.5 L652.2 190.7 L663.1 195.3 L670.2 193.2 L667.3 184.4 L671.5 183.2 L677.7 186.1 L684.0 192.4 L690.3 197.4 L698.7 199.9 L705.0 193.2 L715.5 192.8 L721.7 195.8 L722.2 200.8 L717.6 203.3 L709.2 208.3 L702.9 207.5 L696.6 215.0 L686.1 217.5 L674.4 225.9 L667.3 234.3 L667.3 238.9 L672.3 239.8 L676.1 246.0 L682.8 246.0 L692.4 249.4 L705.0 254.0 L718.4 254.8 L719.2 262.8 L723.0 267.0 L730.1 269.9 L733.1 266.6 L732.2 258.6 L741.4 250.2 L741.9 243.9 L738.1 238.9 L737.7 232.6 L736.8 224.7 L749.0 224.7 L759.5 227.6 L764.5 229.7 L772.0 230.1 L770.8 237.7 L778.3 241.4 L785.4 239.3 L790.9 235.1 L793.0 233.1 L797.2 240.6 L804.3 249.8 L809.7 251.9 L818.1 256.1 L823.1 261.5 L829.4 267.0 L824.8 269.9 L818.1 271.6 L811.8 275.4 L799.3 275.0 L785.4 275.4 L776.2 279.6 L768.7 286.3 L769.9 288.4 L777.9 282.5 L784.6 280.0 L793.0 280.8 L791.7 285.4 L790.9 288.4 L793.8 291.3 L797.2 293.8 L805.6 294.2 L811.0 292.1 L812.3 293.4 L806.8 296.3 L797.6 298.8 L787.5 302.6 L786.3 299.3 L793.0 295.9 L784.6 296.3 L782.1 298.4 L775.8 300.5 L769.1 303.0 L766.6 306.8 L769.5 310.6 L763.6 312.2 L758.2 313.1 L753.2 315.6 L752.8 319.4 L749.4 322.7 L748.1 325.2 L745.2 329.8 L746.0 334.9 L746.9 338.2 L742.7 340.3 L736.8 343.7 L731.4 346.6 L724.7 350.8 L722.2 355.8 L722.6 361.3 L725.5 367.1 L728.0 373.4 L726.8 378.9 L723.4 380.1 L720.5 376.4 L717.1 370.1 L716.7 364.2 L712.5 360.4 L706.7 361.3 L700.8 358.3 L694.5 357.5 L688.2 359.2 L689.1 363.4 L684.0 363.8 L677.7 361.7 L669.4 361.3 L665.2 363.4 L657.6 368.0 L655.1 374.7 L654.3 383.9 L653.4 392.3 L655.5 397.7 L659.7 404.9 L666.0 408.2 L675.7 407.8 L681.1 406.9 L684.5 402.3 L684.9 397.7 L692.4 395.6 L698.3 395.6 L696.6 401.9 L694.9 408.2 L693.3 413.2 L692.0 419.1 L696.6 419.5 L707.1 419.1 L713.8 422.0 L714.2 431.3 L712.5 439.6 L715.5 443.8 L721.3 448.4 L729.7 445.5 L736.0 447.2 L738.9 449.7 L741.4 449.7 L746.0 446.3 L748.1 440.5 L752.3 438.4 L760.3 435.9 L764.1 433.8 L763.2 438.8 L769.1 437.1 L769.9 434.6 L777.1 440.1 L786.7 441.3 L795.1 440.9 L801.4 441.3 L807.6 446.8 L811.8 450.1 L818.1 456.4 L824.4 460.6 L832.8 461.0 L837.4 461.8 L845.4 465.6 L849.1 469.0 L852.9 478.2 L853.7 485.7 L860.0 490.8 L870.5 489.9 L876.8 496.2 L887.3 497.5 L895.6 497.5 L901.9 501.2 L908.2 506.3 L915.3 507.9 L917.4 517.2 L916.2 523.4 L910.3 529.7 L905.3 538.1 L900.3 542.3 L899.8 552.8 L897.3 561.2 L895.6 569.5 L891.5 577.9 L887.3 581.7 L876.8 582.9 L868.4 586.3 L860.0 594.7 L859.6 605.2 L853.7 613.5 L845.4 621.1 L839.1 628.2 L833.2 632.0 L826.5 631.5 L818.5 629.0 L823.6 634.5 L824.4 638.3 L821.9 645.4 L813.9 647.9 L803.5 648.7 L802.2 655.4 L790.9 657.5 L795.1 662.6 L790.9 663.8 L789.6 672.2 L780.4 678.5 L780.4 680.2 L786.7 684.8 L779.2 693.1 L776.2 697.3 L774.1 701.9 L776.6 704.9 L767.8 707.8 L765.7 710.7 L759.5 708.7 L751.1 705.7 L746.9 695.2 L746.5 686.9 L751.1 680.6 L753.2 670.1 L755.3 661.7 L754.0 657.5 L755.3 645.0 L756.5 640.8 L759.5 634.5 L762.8 624.0 L763.6 611.4 L765.7 598.9 L767.8 586.3 L769.1 569.5 L768.7 562.8 L764.1 559.5 L753.2 551.9 L743.5 542.3 L738.5 531.8 L732.2 519.2 L723.8 510.9 L723.0 504.6 L727.2 500.0 L725.9 492.0 L728.0 485.7 L732.2 479.4 L738.5 473.2 L739.3 469.0 L738.9 458.5 L736.8 455.6 L734.7 450.9 L728.0 454.3 L725.9 451.8 L719.6 451.4 L712.5 450.1 L704.1 444.2 L703.7 439.6 L696.6 431.7 L695.8 430.0 L690.3 429.6 L681.9 427.5 L676.5 424.5 L669.4 418.7 L661.0 419.9 L652.6 417.8 L644.2 414.5 L635.8 410.3 L627.5 406.1 L620.8 400.2 L622.0 395.2 L619.1 389.4 L614.9 385.2 L608.6 379.7 L604.4 373.8 L600.2 369.2 L593.9 364.2 L589.8 355.4 L582.6 352.9 L583.5 357.9 L587.7 365.5 L593.9 372.6 L599.0 383.1 L604.4 388.5 L601.1 387.3 L593.9 382.2 L585.6 372.6 L581.4 368.4 L583.5 364.2 L577.2 358.3 L572.6 349.5 L566.7 343.3 L557.9 341.2 L552.5 332.4 L549.9 327.3 L544.5 320.2 L542.4 316.0 L542.8 307.6 L543.7 292.1 L540.7 282.9 L548.7 283.8 L548.7 280.4 L539.5 276.2 L531.1 272.9 L526.9 267.8 L516.4 258.2 L510.1 251.1 L499.7 242.7 L491.3 241.9 L478.7 235.1 L470.3 234.3 L459.9 233.5 L449.4 231.0 L443.1 233.5 L434.7 236.8 L427.2 237.7 L430.5 230.1 L422.1 235.1 L417.9 238.5 L415.9 242.7 L405.4 246.9 L397.0 251.1 L384.4 254.4 L373.9 256.9 L384.4 251.5 L397.0 244.8 L405.4 239.8 L399.1 239.3 L385.3 239.8 L384.4 234.3 L371.9 232.2 L371.0 225.9 L373.5 221.3 L388.6 219.6 L389.5 215.0 L380.2 215.0 L367.7 215.0 L358.9 210.8M804.7 141.7 L838.2 140.0 L840.7 142.1 L851.6 139.2 L865.1 140.9 L875.9 143.0 L867.6 139.2 L880.6 136.3 L901.1 135.0 L913.2 134.2 L937.5 135.0 L955.6 136.3 L976.1 138.8 L969.0 141.7 L930.4 140.9 L969.0 141.7 L966.5 145.1 L985.7 142.1 L1000.4 141.7 L1010.9 143.8 L992.0 147.2 L978.6 148.8 L985.7 148.4 L981.1 156.0 L985.7 162.2 L973.6 163.5 L981.1 169.4 L973.6 173.1 L982.4 174.4 L969.0 179.0 L971.5 184.0 L959.3 181.5 L972.3 188.6 L953.0 190.7 L969.0 191.1 L955.6 194.9 L937.5 199.1 L929.2 199.5 L919.5 204.6 L901.1 209.2 L892.7 212.9 L891.5 217.5 L884.3 222.6 L885.6 226.3 L881.8 232.2 L875.9 232.6 L862.5 229.7 L855.4 226.3 L845.8 215.5 L839.5 207.9 L837.4 203.3 L840.7 197.0 L850.4 192.4 L834.9 189.9 L833.6 186.1 L848.3 188.6 L831.1 181.5 L833.6 180.3 L822.7 171.9 L816.9 168.1 L804.7 166.4 L780.4 165.6 L775.4 166.0 L765.7 161.8 L783.3 161.0 L767.8 157.2 L789.2 150.9 L779.6 148.8 L783.3 145.1 L804.7 141.7M686.5 178.6 L703.3 176.1 L704.1 181.1 L720.1 176.5 L727.2 178.6 L744.0 179.4 L752.8 186.5 L761.6 184.9 L775.4 189.5 L782.5 194.1 L775.4 197.4 L789.2 201.2 L804.3 205.0 L801.4 208.3 L795.1 212.5 L786.7 219.6 L793.0 223.8 L786.7 226.3 L778.3 223.4 L765.7 220.5 L753.2 215.5 L738.5 216.7 L736.4 212.5 L753.2 208.3 L757.4 199.9 L736.4 195.3 L719.6 193.2 L700.8 191.1 L694.5 186.1 L686.5 178.6M679.8 141.7 L704.1 138.4 L715.0 139.6 L718.0 137.1 L744.8 135.8 L789.2 137.1 L804.3 138.8 L802.2 141.3 L780.4 143.4 L765.7 149.2 L741.9 152.6 L744.8 155.5 L736.8 162.7 L728.9 161.8 L725.9 165.6 L700.4 164.3 L686.5 164.8 L680.7 163.9 L690.3 159.7 L694.5 154.7 L692.4 148.4 L684.0 144.2 L679.8 141.7M658.1 148.4 L666.9 144.6 L675.7 144.2 L686.5 147.6 L688.6 153.0 L680.7 156.8 L671.0 156.0 L671.9 152.6 L661.8 150.9 L658.1 148.4M677.7 168.9 L686.5 168.5 L705.4 167.7 L728.0 168.9 L728.9 171.5 L710.0 173.1 L686.5 172.3 L677.7 171.5 L677.7 168.9M661.0 176.5 L668.9 174.8 L683.6 175.6 L674.8 180.7 L666.9 182.8 L661.0 179.4 L661.0 176.5M634.2 180.3 L642.1 176.5 L656.0 176.1 L658.1 183.6 L650.1 186.5 L642.1 184.0 L634.2 180.3M563.4 184.4 L573.8 179.0 L584.7 178.6 L598.5 181.1 L605.7 179.0 L610.3 184.4 L614.5 177.7 L625.4 177.3 L623.3 180.3 L627.0 187.4 L640.5 192.0 L634.2 195.3 L619.5 194.9 L607.8 197.4 L589.8 197.4 L580.1 195.3 L570.1 190.3 L563.4 184.4M535.3 184.0 L544.5 176.1 L539.9 173.5 L553.3 172.7 L572.2 174.0 L578.9 177.3 L563.4 181.1 L558.3 185.7 L548.3 187.4 L535.3 184.0M570.1 169.8 L575.9 165.6 L589.8 164.8 L599.8 166.8 L602.7 164.3 L607.8 163.9 L611.5 167.3 L620.3 167.7 L619.5 170.6 L606.5 171.9 L594.8 173.5 L586.8 173.5 L586.0 170.6 L570.1 169.8M728.0 218.8 L711.3 218.8 L698.7 216.7 L702.9 210.0 L715.5 209.2 L725.1 215.5 L728.0 218.8M814.8 286.3 L824.4 286.3 L830.7 289.6 L837.0 289.6 L842.4 286.7 L841.2 281.7 L837.0 278.3 L830.7 277.1 L830.7 269.9 L825.2 270.3 L820.2 276.2 L815.2 282.5 L814.8 286.3M546.6 283.3 L539.5 280.8 L529.0 275.8 L525.6 272.9 L535.3 274.1 L543.7 278.3 L546.6 283.3M707.5 394.0 L710.0 390.2 L719.6 388.5 L728.0 389.4 L739.8 395.2 L746.5 397.7 L752.8 401.1 L746.0 402.3 L737.7 402.8 L734.3 395.6 L725.5 394.4 L719.6 393.1 L707.5 394.0M751.5 408.6 L758.2 402.3 L765.7 402.3 L777.1 407.8 L775.4 409.5 L767.0 409.0 L763.6 412.0 L757.4 409.5 L751.5 408.6M781.7 408.6 L788.4 409.0 L787.5 410.3 L781.7 410.3 L781.7 408.6M735.2 408.6 L743.5 409.5 L741.4 410.7 L735.2 409.5 L735.2 408.6M775.8 706.1 L790.5 716.2 L782.5 717.5 L772.0 718.3 L763.6 714.1 L769.9 710.3 L775.8 706.1M806.8 702.8 L816.0 700.7 L821.5 701.9 L817.7 704.9 L809.7 704.5 L806.8 702.8M1198.6 354.6 L1193.2 353.3 L1186.9 356.2 L1176.4 353.7 L1168.0 352.9 L1159.6 349.1 L1151.3 348.3 L1147.1 351.6 L1147.1 355.8 L1142.9 358.8 L1134.5 355.8 L1128.2 353.7 L1126.1 349.5 L1117.7 347.9 L1111.4 346.6 L1107.3 341.2 L1109.3 337.0 L1106.4 331.5 L1109.3 330.3 L1104.3 329.4 L1096.8 331.1 L1084.2 331.5 L1075.8 331.5 L1067.4 332.8 L1059.1 335.7 L1052.8 338.2 L1041.0 335.3 L1038.1 335.7 L1034.8 343.3 L1027.6 346.2 L1023.0 355.8 L1022.2 360.9 L1017.2 366.3 L1008.8 369.7 L1002.5 375.9 L996.2 385.6 L992.0 397.7 L995.0 404.0 L994.1 410.3 L994.1 418.7 L989.9 424.1 L993.3 429.2 L992.9 434.2 L1000.4 439.6 L1005.8 445.9 L1010.9 454.3 L1017.2 457.2 L1025.5 464.8 L1031.8 467.3 L1042.3 464.4 L1054.9 465.6 L1063.3 462.3 L1069.5 459.7 L1075.8 458.9 L1082.1 459.3 L1086.3 466.9 L1090.5 467.7 L1098.9 466.9 L1103.1 469.8 L1104.3 475.3 L1102.6 485.7 L1101.0 489.9 L1105.2 498.3 L1112.7 506.7 L1114.8 513.0 L1117.7 522.2 L1119.8 531.8 L1113.5 544.4 L1112.7 554.9 L1115.6 563.2 L1121.9 577.9 L1124.0 586.3 L1126.9 598.9 L1132.4 605.6 L1136.6 615.6 L1139.9 627.4 L1140.8 629.5 L1147.1 631.5 L1155.4 628.6 L1163.8 628.2 L1172.2 626.9 L1178.5 624.4 L1186.9 616.9 L1193.2 609.3 L1199.4 598.9 L1200.7 593.8 L1209.9 588.4 L1212.0 577.9 L1209.9 569.5 L1217.5 561.2 L1226.7 557.0 L1233.0 548.6 L1233.0 531.8 L1228.8 519.2 L1227.5 513.0 L1228.8 504.6 L1235.1 494.1 L1241.3 487.8 L1247.6 479.4 L1256.0 475.3 L1264.4 466.9 L1270.7 456.4 L1276.1 443.8 L1278.2 436.3 L1268.6 438.4 L1256.0 440.5 L1247.6 442.1 L1244.3 437.1 L1244.7 432.5 L1239.2 425.0 L1230.9 419.9 L1226.7 412.4 L1222.5 408.2 L1219.6 397.7 L1217.5 393.5 L1212.4 387.3 L1207.0 374.7 L1203.6 369.2 L1199.9 360.4 L1198.6 354.6M1269.8 536.0 L1274.9 549.8 L1270.7 559.1 L1266.5 571.6 L1262.3 588.4 L1252.7 592.6 L1246.8 586.3 L1244.7 575.8 L1249.3 568.7 L1247.6 559.1 L1249.7 553.6 L1258.1 550.7 L1264.4 542.3 L1269.8 536.0M1199.9 360.4 L1198.6 354.6 L1206.6 354.6 L1209.5 349.5 L1212.0 343.7 L1213.7 337.8 L1214.9 332.4 L1209.9 332.4 L1201.5 334.5 L1193.2 331.9 L1184.8 332.8 L1177.6 330.7 L1174.3 324.4 L1173.0 320.2 L1174.3 316.9 L1178.5 314.8 L1184.8 313.9 L1193.2 313.5 L1201.5 310.2 L1209.9 309.7 L1218.3 313.5 L1228.8 313.9 L1237.2 311.8 L1237.6 306.8 L1230.9 303.4 L1224.6 299.7 L1220.4 297.2 L1212.0 296.3 L1203.6 299.3 L1199.4 295.5 L1203.6 293.0 L1195.2 290.5 L1191.1 293.0 L1187.3 296.3 L1183.5 301.4 L1180.6 307.6 L1184.4 312.7 L1184.8 313.5 L1180.6 313.9 L1174.3 315.6 L1172.2 314.8 L1165.9 314.3 L1161.7 316.9 L1158.8 316.0 L1157.5 320.2 L1159.6 324.4 L1163.8 325.7 L1160.5 329.4 L1157.5 332.8 L1154.2 331.5 L1151.7 327.3 L1153.3 325.2 L1150.0 322.3 L1147.1 319.4 L1144.5 316.9 L1145.0 310.6 L1140.8 307.6 L1130.3 303.4 L1126.1 299.3 L1120.7 294.6 L1114.8 295.9 L1115.2 300.5 L1120.2 303.4 L1124.9 309.3 L1130.3 310.2 L1138.7 315.6 L1140.8 317.7 L1134.5 316.4 L1132.4 319.4 L1134.9 322.3 L1132.4 324.8 L1129.0 326.9 L1129.0 322.7 L1128.6 318.1 L1124.4 315.6 L1120.7 313.1 L1114.4 310.6 L1109.3 307.2 L1107.3 303.4 L1103.1 300.5 L1098.9 300.1 L1094.7 302.2 L1088.4 305.1 L1082.1 303.4 L1076.7 304.7 L1076.7 308.9 L1072.9 312.7 L1066.6 313.9 L1062.0 320.2 L1064.1 323.6 L1060.3 328.2 L1054.9 331.9 L1044.8 331.9 L1039.8 334.9 L1036.4 331.5 L1031.8 329.8 L1025.5 330.7 L1026.4 323.6 L1023.4 323.1 L1026.0 317.3 L1026.8 309.7 L1024.3 305.5 L1029.7 302.6 L1040.2 303.0 L1050.7 303.9 L1057.0 303.9 L1058.2 299.3 L1058.2 293.0 L1054.0 288.4 L1044.4 285.0 L1043.6 282.1 L1050.7 281.2 L1056.5 281.7 L1057.4 277.5 L1063.7 278.3 L1069.5 275.4 L1073.7 271.6 L1077.9 269.9 L1082.1 265.7 L1086.3 262.0 L1092.6 261.5 L1099.3 259.9 L1099.3 255.3 L1097.6 251.1 L1099.3 246.5 L1107.7 243.9 L1106.8 249.0 L1108.9 250.2 L1105.2 253.2 L1103.5 255.3 L1108.9 257.8 L1111.4 259.0 L1117.7 257.8 L1122.8 259.9 L1132.4 257.4 L1140.8 256.1 L1145.0 257.8 L1151.3 255.3 L1151.7 251.1 L1153.8 245.2 L1158.0 243.9 L1165.1 246.0 L1161.7 240.6 L1163.8 237.2 L1172.2 236.0 L1180.6 236.4 L1189.0 234.3 L1182.7 232.2 L1174.3 232.6 L1163.8 234.3 L1157.5 234.3 L1152.9 230.5 L1153.3 223.8 L1157.5 218.4 L1165.9 214.2 L1170.1 212.5 L1165.9 210.0 L1156.3 210.0 L1152.1 215.5 L1142.9 219.6 L1137.8 223.8 L1135.3 230.1 L1140.8 234.3 L1142.0 237.2 L1132.4 246.9 L1132.4 250.2 L1124.0 250.2 L1116.9 253.2 L1116.1 249.0 L1112.7 242.7 L1110.2 238.1 L1107.3 236.4 L1103.1 238.5 L1096.8 242.3 L1088.4 241.4 L1086.3 237.2 L1084.2 232.2 L1083.4 223.0 L1097.2 217.5 L1113.1 207.1 L1129.5 199.1 L1152.5 189.9 L1166.3 187.4 L1180.2 186.1 L1189.4 188.6 L1192.7 191.6 L1210.3 194.5 L1230.9 199.1 L1235.5 204.6 L1224.6 208.7 L1212.4 207.1 L1203.2 204.6 L1208.2 210.8 L1210.3 213.8 L1219.6 216.3 L1230.9 211.7 L1239.2 207.9 L1244.7 197.9 L1256.4 199.1 L1258.5 204.6 L1267.7 202.5 L1290.8 196.6 L1309.2 195.3 L1316.3 193.2 L1350.7 197.9 L1341.5 188.6 L1350.7 179.4 L1367.1 179.4 L1369.1 186.1 L1362.4 207.1 L1378.4 197.9 L1376.3 179.4 L1383.0 184.0 L1403.9 184.0 L1401.4 176.9 L1424.5 174.8 L1429.1 170.2 L1453.0 166.4 L1467.6 166.8 L1484.8 163.9 L1493.6 160.6 L1502.0 161.0 L1512.9 163.9 L1534.2 164.8 L1540.5 168.1 L1521.3 174.0 L1538.4 175.6 L1559.8 176.9 L1564.0 179.0 L1579.1 178.6 L1581.2 175.6 L1598.4 176.5 L1603.8 181.9 L1611.3 188.2 L1617.6 184.0 L1632.7 185.3 L1649.9 184.0 L1645.7 180.7 L1654.1 178.6 L1690.5 181.9 L1703.5 187.4 L1729.1 187.4 L1735.4 193.7 L1754.7 192.8 L1769.7 193.7 L1773.9 197.0 L1778.1 191.6 L1804.1 191.6 L1817.5 194.9M309.0 194.9 L317.4 198.7 L330.0 203.7 L342.5 205.4 L351.7 208.7 L346.7 211.3 L340.4 215.9 L330.0 212.5 L315.3 212.5 L309.0 213.4M1817.5 213.4 L1813.3 223.8 L1804.9 223.8 L1792.4 226.8 L1775.6 234.3 L1758.8 234.3 L1748.4 235.1 L1742.1 242.7 L1746.3 251.1 L1742.1 257.4 L1733.7 263.6 L1727.4 267.8 L1719.9 272.0 L1716.9 265.7 L1714.8 253.2 L1719.0 244.8 L1725.3 242.7 L1733.7 236.4 L1741.2 232.6 L1731.6 227.6 L1716.9 227.6 L1708.6 237.7 L1696.0 237.7 L1683.4 237.2 L1670.8 236.8 L1658.3 238.5 L1652.0 242.7 L1641.5 251.1 L1637.3 257.4 L1649.9 260.3 L1655.3 265.7 L1652.0 276.2 L1649.9 282.5 L1643.6 288.8 L1639.4 294.2 L1631.0 302.2 L1620.6 306.4 L1614.3 307.2 L1610.9 308.5 L1607.2 313.9 L1601.7 319.0 L1597.5 320.2 L1603.8 328.6 L1605.5 334.9 L1603.8 338.6 L1597.5 340.7 L1592.5 341.2 L1593.3 334.9 L1594.6 330.7 L1592.1 327.8 L1587.0 327.8 L1585.8 322.3 L1578.7 319.8 L1572.4 322.3 L1571.1 323.1 L1574.1 317.3 L1570.3 314.8 L1564.0 318.5 L1557.7 321.5 L1555.6 324.4 L1561.1 328.6 L1564.0 330.3 L1576.6 329.0 L1570.3 332.4 L1564.0 339.1 L1568.2 347.4 L1573.6 352.9 L1574.1 356.7 L1572.4 360.0 L1574.5 363.0 L1572.4 368.4 L1568.2 372.6 L1564.0 378.9 L1559.8 382.6 L1553.5 386.8 L1543.0 391.4 L1534.7 394.4 L1526.3 396.9 L1525.0 400.7 L1522.9 395.6 L1517.9 394.8 L1510.4 399.8 L1507.4 404.0 L1506.2 408.2 L1509.5 413.7 L1513.7 417.8 L1519.2 422.0 L1521.3 431.3 L1520.8 437.5 L1513.7 441.7 L1509.5 445.9 L1503.2 449.7 L1502.4 443.0 L1497.0 441.3 L1492.8 435.4 L1486.5 432.5 L1484.4 429.2 L1481.9 433.3 L1478.9 441.7 L1481.9 447.2 L1484.0 455.1 L1488.6 457.2 L1492.8 461.4 L1496.5 466.9 L1496.5 474.0 L1499.9 479.9 L1497.0 480.3 L1490.7 475.3 L1486.5 471.1 L1483.5 463.5 L1482.7 458.5 L1475.6 451.4 L1476.0 443.8 L1476.4 435.4 L1473.1 423.7 L1471.8 416.6 L1465.5 415.7 L1459.2 418.7 L1459.2 411.1 L1455.0 404.0 L1450.0 397.7 L1447.5 391.0 L1442.5 393.5 L1436.2 394.0 L1427.8 395.6 L1427.4 399.8 L1419.4 404.0 L1413.1 410.3 L1406.9 416.2 L1399.7 420.8 L1399.3 430.0 L1397.6 439.6 L1394.3 446.8 L1390.1 450.9 L1388.0 451.8 L1383.8 445.9 L1380.9 437.5 L1376.7 431.3 L1373.3 422.9 L1370.0 414.5 L1368.3 406.1 L1367.5 396.5 L1365.8 396.9 L1358.7 398.6 L1352.4 392.3 L1357.8 389.4 L1350.3 387.3 L1345.3 383.1 L1341.9 379.3 L1331.4 379.7 L1321.0 380.1 L1310.5 379.3 L1304.2 377.6 L1302.1 372.6 L1297.9 372.2 L1289.5 373.8 L1281.1 369.2 L1274.9 363.4 L1268.6 358.8 L1264.4 360.0 L1264.4 363.4 L1267.7 369.7 L1272.8 374.7 L1274.9 379.7 L1277.0 376.8 L1279.5 380.1 L1278.2 383.9 L1285.3 384.7 L1291.6 383.9 L1297.9 378.9 L1299.6 375.5 L1299.2 381.8 L1304.2 386.0 L1309.6 387.3 L1313.8 391.9 L1308.4 399.8 L1305.0 406.1 L1300.0 410.3 L1293.7 414.5 L1283.2 417.8 L1270.7 424.5 L1260.2 429.6 L1251.8 432.1 L1245.5 432.5 L1243.4 425.0 L1242.2 418.7 L1238.4 412.4 L1233.0 404.0 L1226.7 396.5 L1224.6 387.3 L1219.1 381.0 L1214.1 373.4 L1209.9 368.4 L1209.5 362.1 L1206.6 368.4 L1204.9 369.2 L1199.9 360.4M1260.2 297.2 L1268.6 290.9 L1277.0 288.8 L1285.3 289.6 L1286.2 295.9 L1278.2 299.3 L1284.1 311.0 L1289.5 314.8 L1287.4 321.5 L1289.1 329.4 L1277.0 331.9 L1268.6 328.2 L1267.7 322.7 L1270.7 316.9 L1266.9 310.6 L1262.3 305.5 L1260.2 297.2M1039.4 275.8 L1048.6 275.0 L1059.1 273.3 L1069.1 271.2 L1070.4 264.9 L1064.5 262.8 L1063.3 261.1 L1057.0 255.3 L1054.9 251.5 L1050.7 251.1 L1054.9 249.0 L1055.7 244.8 L1048.6 244.4 L1050.7 240.2 L1042.3 240.2 L1039.0 244.8 L1040.2 249.0 L1037.3 249.8 L1042.3 251.9 L1043.1 255.3 L1050.7 255.7 L1049.0 258.6 L1050.7 262.0 L1044.0 262.4 L1044.4 264.5 L1046.5 266.6 L1041.5 269.1 L1050.7 269.9 L1044.4 271.6 L1039.4 275.8M1038.1 267.0 L1038.1 261.5 L1039.4 256.9 L1037.3 254.4 L1031.8 254.0 L1027.6 256.5 L1021.4 258.6 L1021.4 262.0 L1024.3 265.3 L1020.1 268.7 L1023.4 269.9 L1029.7 268.7 L1038.1 267.0M960.6 210.0 L965.2 206.7 L972.3 206.7 L978.6 209.2 L985.7 206.7 L1000.4 205.8 L1006.3 212.1 L1001.2 216.3 L992.0 218.4 L983.6 220.1 L975.3 218.4 L968.1 218.0 L971.9 215.5 L962.7 213.4 L960.6 210.0M1106.4 151.3 L1120.2 149.2 L1136.2 148.4 L1157.1 147.2 L1178.1 149.2 L1175.6 151.8 L1157.1 153.0 L1140.8 156.4 L1134.1 163.1 L1124.9 162.2 L1120.2 158.5 L1106.4 151.3M1279.5 184.0 L1288.7 176.9 L1297.9 170.2 L1313.8 165.6 L1352.0 164.3 L1348.6 166.8 L1316.3 171.5 L1304.6 174.8 L1295.4 184.0 L1304.6 188.6 L1290.8 188.6 L1279.5 184.0M1444.2 147.6 L1463.4 144.2 L1482.7 149.7 L1480.6 154.3 L1463.4 153.0 L1450.9 149.7 L1444.2 147.6M1636.9 168.1 L1647.8 166.4 L1669.2 168.1 L1665.0 171.0 L1645.7 172.3 L1636.9 168.1M1658.3 293.0 L1664.6 290.9 L1662.5 280.4 L1668.8 280.4 L1662.5 272.0 L1664.6 262.8 L1660.4 258.2 L1657.4 263.6 L1658.3 276.2 L1658.3 293.0M1611.8 343.3 L1618.5 337.4 L1628.9 336.1 L1633.1 334.9 L1637.3 330.7 L1643.6 326.9 L1648.6 320.2 L1649.9 316.0 L1652.0 312.7 L1656.2 312.7 L1657.4 320.2 L1654.1 325.7 L1654.1 330.7 L1653.2 334.9 L1652.0 338.2 L1649.1 339.1 L1644.9 340.7 L1637.3 340.7 L1635.2 343.3 L1629.8 344.5 L1629.8 340.7 L1620.6 342.0 L1614.3 343.3 L1611.8 343.3M1649.9 310.6 L1651.2 304.7 L1656.6 304.3 L1657.4 295.5 L1664.6 300.5 L1672.1 304.3 L1664.6 309.7 L1654.1 310.6 L1649.9 310.6M1607.2 346.2 L1611.8 343.7 L1616.4 347.4 L1613.4 354.2 L1609.3 355.0 L1608.8 349.5 L1607.2 346.2M1618.5 346.2 L1622.7 342.4 L1627.7 342.8 L1625.6 346.6 L1620.6 348.3 L1618.5 346.2M1567.8 380.1 L1573.6 379.3 L1572.4 386.0 L1569.0 393.1 L1567.8 387.7 L1567.8 380.1M1518.3 405.3 L1524.2 401.5 L1528.4 403.6 L1524.2 409.0 L1518.3 405.3M1567.8 407.8 L1573.6 407.8 L1577.0 417.0 L1575.3 424.5 L1567.8 424.5 L1569.0 415.3 L1567.8 407.8M1573.6 445.9 L1584.5 445.9 L1592.1 450.5 L1593.7 458.5 L1587.5 461.4 L1579.9 455.1 L1573.6 452.2 L1573.6 445.9M1567.8 426.2 L1578.2 427.5 L1587.5 433.8 L1590.8 443.0 L1584.5 445.9 L1575.3 440.1 L1567.8 432.1 L1567.8 426.2M1554.4 450.5 L1564.0 438.4 L1562.7 438.0 L1553.5 449.7 L1554.4 450.5M1552.3 456.0 L1559.8 461.4 L1556.9 470.6 L1559.8 476.9 L1556.9 486.1 L1552.3 498.3 L1546.0 501.7 L1538.4 500.0 L1530.9 497.0 L1524.6 495.4 L1521.7 489.1 L1520.0 478.6 L1526.3 474.0 L1541.4 466.0 L1552.3 456.0M1462.6 462.3 L1471.8 463.9 L1482.3 474.4 L1498.2 487.8 L1501.1 496.2 L1507.4 499.6 L1506.6 510.0 L1501.1 510.4 L1492.8 503.3 L1486.5 496.2 L1482.3 487.8 L1476.4 478.2 L1471.8 475.3 L1465.5 467.7 L1462.6 462.3M1504.5 514.2 L1507.4 510.4 L1517.9 512.5 L1526.3 514.6 L1534.7 514.6 L1543.0 518.4 L1543.0 521.8 L1528.4 520.1 L1517.9 518.4 L1509.5 516.7 L1504.5 514.2M1566.1 507.5 L1563.6 495.4 L1566.1 483.2 L1572.4 481.5 L1587.5 478.6 L1586.2 481.5 L1572.4 486.1 L1570.7 490.8 L1578.2 488.2 L1575.3 492.4 L1572.4 495.4 L1577.0 506.3 L1573.6 507.5 L1570.7 501.7 L1569.0 507.5 L1566.1 507.5M1580.8 528.9 L1587.0 523.4 L1595.4 520.9 L1589.1 525.1 L1580.8 528.9M1549.3 523.0 L1561.9 520.5 L1577.8 519.7 L1566.1 522.6 L1549.3 523.0M1598.4 476.9 L1603.0 478.6 L1602.1 487.8 L1598.4 484.5 L1598.4 476.9M1610.5 487.8 L1621.4 488.2 L1633.6 492.4 L1641.5 491.6 L1656.6 495.4 L1672.1 502.9 L1684.3 507.5 L1692.2 513.8 L1693.5 527.6 L1684.3 526.0 L1678.4 520.1 L1664.6 518.4 L1656.6 521.3 L1641.5 518.4 L1639.8 512.1 L1627.7 507.5 L1621.4 498.3 L1613.9 495.4 L1610.5 487.8M1541.4 577.1 L1549.3 572.5 L1559.8 570.8 L1570.3 567.4 L1575.7 559.1 L1580.8 554.9 L1587.0 546.9 L1595.4 543.6 L1601.7 548.2 L1606.7 548.2 L1609.3 539.4 L1614.3 536.8 L1618.5 533.9 L1626.8 536.0 L1633.1 536.0 L1636.1 537.3 L1633.1 542.3 L1631.0 548.6 L1639.4 553.6 L1647.8 559.1 L1653.2 558.6 L1656.2 548.6 L1656.6 539.8 L1660.4 530.6 L1664.6 538.1 L1664.6 544.4 L1672.1 548.6 L1672.9 557.0 L1675.9 565.3 L1686.8 571.6 L1693.9 580.0 L1704.4 590.5 L1706.9 605.2 L1704.4 615.6 L1700.2 624.0 L1696.0 628.2 L1691.8 640.8 L1681.3 645.0 L1676.3 649.6 L1668.8 645.8 L1658.3 646.6 L1649.9 644.1 L1647.8 638.7 L1643.6 634.9 L1641.5 630.3 L1640.3 624.0 L1633.1 631.5 L1629.8 630.3 L1625.6 622.7 L1614.3 617.7 L1599.6 620.7 L1587.0 623.2 L1580.8 627.8 L1566.1 627.8 L1557.7 632.4 L1547.2 629.5 L1545.1 626.5 L1548.1 621.5 L1545.1 609.3 L1542.2 603.1 L1538.4 594.7 L1539.7 588.4 L1538.9 580.0 L1541.4 577.1M1669.2 656.3 L1684.7 657.1 L1684.7 662.6 L1679.2 668.0 L1675.0 668.0 L1671.7 662.6 L1669.2 656.3M1786.9 629.9 L1794.5 635.7 L1798.7 638.7 L1800.7 643.3 L1809.1 643.3 L1810.4 647.5 L1804.9 650.4 L1804.1 654.2 L1797.4 660.0 L1794.9 658.8 L1796.6 653.3 L1791.5 650.0 L1794.9 645.0 L1792.4 638.7 L1786.9 629.9M1786.9 655.4 L1792.4 658.8 L1793.2 661.7 L1788.2 668.0 L1781.1 671.4 L1777.7 678.1 L1771.4 681.0 L1760.9 678.5 L1763.0 674.3 L1769.3 670.1 L1777.7 665.9 L1781.9 660.9 L1786.9 655.4M1397.6 459.7 L1398.5 451.4 L1398.5 444.7 L1402.7 450.1 L1406.0 455.1 L1403.9 459.7 L1400.6 461.0 L1397.6 459.7M309.0 837.3 L359.3 839.0 L402.0 841.5 L463.6 839.4 L423.4 835.2 L419.2 826.4 L448.5 820.1 L399.9 811.7 L402.0 807.5 L423.4 809.6 L451.1 801.3 L499.7 796.2 L537.4 795.0 L596.9 795.0 L630.4 799.2 L638.8 795.0 L630.4 789.9 L660.1 788.7 L685.7 790.8 L700.4 790.8 L721.7 793.3 L726.8 791.2 L743.5 794.6 L766.6 792.0 L779.6 789.1 L779.6 777.4 L780.8 767.3 L789.2 761.9 L800.9 756.0 L812.7 752.6 L822.3 750.1 L816.0 753.5 L802.6 759.4 L800.9 761.9 L789.6 766.1 L790.0 769.0 L799.3 774.0 L806.0 782.4 L809.3 792.0 L802.6 797.1 L792.6 800.4 L769.5 804.6 L740.2 806.3 L751.5 809.6 L738.5 813.8 L736.8 816.8 L749.8 821.0 L774.5 825.1 L813.9 830.2 L819.0 833.1 L883.5 828.5 L937.5 821.0 L943.4 820.5 L914.5 817.6 L912.8 813.8 L937.5 808.8 L963.9 803.8 L995.4 795.4 L1000.4 790.8 L1019.3 784.5 L1044.8 782.4 L1060.3 783.7 L1102.6 778.2 L1157.5 780.3 L1186.9 778.2 L1206.1 772.3 L1227.1 775.7 L1250.6 769.4 L1288.3 761.0 L1305.5 763.1 L1322.2 768.2 L1352.0 769.4 L1347.8 780.3 L1356.2 786.6 L1372.9 778.2 L1398.5 769.4 L1432.0 763.1 L1461.8 766.5 L1495.7 759.8 L1516.6 765.2 L1538.0 761.0 L1567.3 766.1 L1609.7 763.1 L1628.5 758.9 L1635.2 762.3 L1673.4 763.1 L1685.9 768.6 L1732.4 778.2 L1779.0 786.6 L1753.4 795.0 L1747.1 810.5 L1761.8 813.8 L1732.4 824.3 L1774.8 836.0 L1817.5 839.4M378.6 813.4 L388.6 811.7 L395.3 813.8 L388.6 816.8 L378.6 815.1 L378.6 813.4M749.8 785.8 L762.8 774.0 L769.5 773.2 L777.9 782.4 L780.8 787.4 L762.8 787.4 L749.8 785.8M837.4 821.8 L848.7 817.6 L858.8 812.2 L870.1 811.3 L880.1 814.7 L881.8 819.3 L865.1 822.6 L837.4 822.6 L837.4 821.8M786.3 820.5 L806.0 818.4 L810.2 818.4 L812.7 820.1 L806.0 823.5 L788.0 821.8 L786.3 820.5" fill="none" stroke="#000" stroke-width="2" stroke-linejoin="round"/>
<path d="M434.7 108.6V862.9M560.4 108.6V862.9M686.1 108.6V862.9M811.8 108.6V862.9M937.5 108.6V862.9M1063.3 108.6V862.9M1189.0 108.6V862.9M1314.7 108.6V862.9M1440.4 108.6V862.9M1566.1 108.6V862.9M1691.8 108.6V862.9M1817.5 108.6V862.9M309.0 737.1H1817.5M309.0 611.4H1817.5M309.0 485.7H1817.5M309.0 360.0H1817.5M309.0 234.3H1817.5" stroke="#000" stroke-width="1.6" fill="none"/>
</g>
<rect x="309.0" y="108.6" width="1508.5" height="754.3" fill="none" stroke="#000" stroke-width="2.9"/>
<rect x="557.8" y="1023.7" width="1009.7" height="36.7" fill="url(#gjet)"/>
<path d="M557.8 1023.7L504.8 1042.1L557.8 1060.4Z" fill="#c0c0c0"/>
<path d="M1567.5 1023.7L1620 1042.1L1567.5 1060.4Z" fill="#404040"/>
<path d="M557.8 1023.7L504.8 1042.1L557.8 1060.4L1567.5 1060.4L1620 1042.1L1567.5 1023.7Z" fill="none" stroke="#000" stroke-width="2.7" stroke-linejoin="miter"/>
<path d="M557.8 1060.4V1085.6M978.6 1060.4V1085.6M1399.4 1060.4V1085.6" stroke="#000" stroke-width="3.2"/>
<path d="M684.5 1060.4V1069.5M758.6 1060.4V1069.5M811.1 1060.4V1069.5M851.9 1060.4V1069.5M885.2 1060.4V1069.5M913.4 1060.4V1069.5M937.8 1060.4V1069.5M959.3 1060.4V1069.5M1105.3 1060.4V1069.5M1179.4 1060.4V1069.5M1231.9 1060.4V1069.5M1272.7 1060.4V1069.5M1306.0 1060.4V1069.5M1334.2 1060.4V1069.5M1358.6 1060.4V1069.5M1380.1 1060.4V1069.5M1526.1 1060.4V1069.5" stroke="#000" stroke-width="2.2"/>
<text x="511.0" y="1133.1" font-size="45.5" font-family="Liberation Sans, sans-serif" fill="#000">10</text>
<text x="943.8" y="1133.1" font-size="45.5" font-family="Liberation Sans, sans-serif" fill="#000">10</text>
<text x="998.0" y="1116.7" font-size="29" font-family="Liberation Sans, sans-serif" fill="#000">0</text>
<text x="1365.9" y="1133.1" font-size="45.5" font-family="Liberation Sans, sans-serif" fill="#000">10</text>
<text x="1420.0" y="1116.7" font-size="29" font-family="Liberation Sans, sans-serif" fill="#000">1</text>
<text x="588.3" y="1116.7" font-size="29" font-family="Liberation Sans, sans-serif" fill="#000">1</text>
<rect x="567" y="1106.9" width="18.4" height="2.1" fill="#000"/>
<text x="803.0" y="1193.4" font-size="43.5" textLength="518.5" lengthAdjust="spacingAndGlyphs" font-family="Liberation Sans, sans-serif" fill="#000">SO₂ vertical column [DU]</text>
<g clip-path="url(#cN)">
<circle cx="543.1" cy="1778.0" r="463.6" fill="#808080"/>
<g transform="rotate(0.00 543.1 1778.0) translate(-0.0 0)"><rect x="488.1" y="1312.4" width="110.0" height="465.6" fill="url(#gNy)" filter="url(#texN)" clip-path="url(#wedge)"/></g>
<g transform="rotate(10.00 543.1 1778.0) translate(-137.0 0)"><rect x="625.1" y="1312.4" width="110.0" height="465.6" fill="url(#gNy)" filter="url(#texN)" clip-path="url(#wedge)"/></g>
<g transform="rotate(20.00 543.1 1778.0) translate(-274.0 0)"><rect x="762.1" y="1312.4" width="110.0" height="465.6" fill="url(#gNy)" filter="url(#texN)" clip-path="url(#wedge)"/></g>
<g transform="rotate(30.00 543.1 1778.0) translate(-411.0 0)"><rect x="899.1" y="1312.4" width="110.0" height="465.6" fill="url(#gNy)" filter="url(#texN)" clip-path="url(#wedge)"/></g>
<g transform="rotate(40.00 543.1 1778.0) translate(-548.0 0)"><rect x="1036.1" y="1312.4" width="110.0" height="465.6" fill="url(#gNy)" filter="url(#texN)" clip-path="url(#wedge)"/></g>
<g transform="rotate(50.00 543.1 1778.0) translate(-685.0 0)"><rect x="1173.1" y="1312.4" width="110.0" height="465.6" fill="url(#gNy)" filter="url(#texN)" clip-path="url(#wedge)"/></g>
<g transform="rotate(60.00 543.1 1778.0) translate(-822.0 0)"><rect x="1310.1" y="1312.4" width="110.0" height="465.6" fill="url(#gNy)" filter="url(#texN)" clip-path="url(#wedge)"/></g>
<g transform="rotate(70.00 543.1 1778.0) translate(-959.0 0)"><rect x="1447.1" y="1312.4" width="110.0" height="465.6" fill="url(#gNy)" filter="url(#texN)" clip-path="url(#wedge)"/></g>
<g transform="rotate(80.00 543.1 1778.0) translate(-1096.0 0)"><rect x="1584.1" y="1312.4" width="110.0" height="465.6" fill="url(#gNy)" filter="url(#texN)" clip-path="url(#wedge)"/></g>
<g transform="rotate(90.00 543.1 1778.0) translate(-1233.0 0)"><rect x="1721.1" y="1312.4" width="110.0" height="465.6" fill="url(#gNy)" filter="url(#texN)" clip-path="url(#wedge)"/></g>
<g transform="rotate(100.00 543.1 1778.0) translate(-1370.0 0)"><rect x="1858.1" y="1312.4" width="110.0" height="465.6" fill="url(#gNy)" filter="url(#texN)" clip-path="url(#wedge)"/></g>
<g transform="rotate(110.00 543.1 1778.0) translate(-1507.0 0)"><rect x="1995.1" y="1312.4" width="110.0" height="465.6" fill="url(#gNy)" filter="url(#texN)" clip-path="url(#wedge)"/></g>
<g transform="rotate(120.00 543.1 1778.0) translate(-1644.0 0)"><rect x="2132.1" y="1312.4" width="110.0" height="465.6" fill="url(#gNy)" filter="url(#texN)" clip-path="url(#wedge)"/></g>
<g transform="rotate(130.00 543.1 1778.0) translate(-1781.0 0)"><rect x="2269.1" y="1312.4" width="110.0" height="465.6" fill="url(#gNy)" filter="url(#texN)" clip-path="url(#wedge)"/></g>
<g transform="rotate(140.00 543.1 1778.0) translate(-1918.0 0)"><rect x="2406.1" y="1312.4" width="110.0" height="465.6" fill="url(#gNy)" filter="url(#texN)" clip-path="url(#wedge)"/></g>
<g transform="rotate(150.00 543.1 1778.0) translate(-2055.0 0)"><rect x="2543.1" y="1312.4" width="110.0" height="465.6" fill="url(#gNy)" filter="url(#texN)" clip-path="url(#wedge)"/></g>
<g transform="rotate(160.00 543.1 1778.0) translate(-2192.0 0)"><rect x="2680.1" y="1312.4" width="110.0" height="465.6" fill="url(#gNy)" filter="url(#texN)" clip-path="url(#wedge)"/></g>
<g transform="rotate(170.00 543.1 1778.0) translate(-2329.0 0)"><rect x="2817.1" y="1312.4" width="110.0" height="465.6" fill="url(#gNy)" filter="url(#texN)" clip-path="url(#wedge)"/></g>
<g transform="rotate(180.00 543.1 1778.0) translate(-2466.0 0)"><rect x="2954.1" y="1312.4" width="110.0" height="465.6" fill="url(#gNy)" filter="url(#texN)" clip-path="url(#wedge)"/></g>
<g transform="rotate(190.00 543.1 1778.0) translate(-2603.0 0)"><rect x="3091.1" y="1312.4" width="110.0" height="465.6" fill="url(#gNy)" filter="url(#texN)" clip-path="url(#wedge)"/></g>
<g transform="rotate(200.00 543.1 1778.0) translate(-2740.0 0)"><rect x="3228.1" y="1312.4" width="110.0" height="465.6" fill="url(#gNy)" filter="url(#texN)" clip-path="url(#wedge)"/></g>
<g transform="rotate(210.00 543.1 1778.0) translate(-2877.0 0)"><rect x="3365.1" y="1312.4" width="110.0" height="465.6" fill="url(#gNy)" filter="url(#texN)" clip-path="url(#wedge)"/></g>
<g transform="rotate(220.00 543.1 1778.0) translate(-3014.0 0)"><rect x="3502.1" y="1312.4" width="110.0" height="465.6" fill="url(#gNy)" filter="url(#texN)" clip-path="url(#wedge)"/></g>
<g transform="rotate(230.00 543.1 1778.0) translate(-3151.0 0)"><rect x="3639.1" y="1312.4" width="110.0" height="465.6" fill="url(#gNy)" filter="url(#texN)" clip-path="url(#wedge)"/></g>
<g transform="rotate(240.00 543.1 1778.0) translate(-3288.0 0)"><rect x="3776.1" y="1312.4" width="110.0" height="465.6" fill="url(#gNy)" filter="url(#texN)" clip-path="url(#wedge)"/></g>
<g transform="rotate(250.00 543.1 1778.0) translate(-3425.0 0)"><rect x="3913.1" y="1312.4" width="110.0" height="465.6" fill="url(#gNy)" filter="url(#texN)" clip-path="url(#wedge)"/></g>
<g transform="rotate(260.00 543.1 1778.0) translate(-3562.0 0)"><rect x="4050.1" y="1312.4" width="110.0" height="465.6" fill="url(#gNy)" filter="url(#texN)" clip-path="url(#wedge)"/></g>
<g transform="rotate(270.00 543.1 1778.0) translate(-3699.0 0)"><rect x="4187.1" y="1312.4" width="110.0" height="465.6" fill="url(#gNy)" filter="url(#texN)" clip-path="url(#wedge)"/></g>
<g transform="rotate(280.00 543.1 1778.0) translate(-3836.0 0)"><rect x="4324.1" y="1312.4" width="110.0" height="465.6" fill="url(#gNy)" filter="url(#texN)" clip-path="url(#wedge)"/></g>
<g transform="rotate(290.00 543.1 1778.0) translate(-3973.0 0)"><rect x="4461.1" y="1312.4" width="110.0" height="465.6" fill="url(#gNy)" filter="url(#texN)" clip-path="url(#wedge)"/></g>
<g transform="rotate(300.00 543.1 1778.0) translate(-4110.0 0)"><rect x="4598.1" y="1312.4" width="110.0" height="465.6" fill="url(#gNy)" filter="url(#texN)" clip-path="url(#wedge)"/></g>
<g transform="rotate(310.00 543.1 1778.0) translate(-4247.0 0)"><rect x="4735.1" y="1312.4" width="110.0" height="465.6" fill="url(#gNy)" filter="url(#texN)" clip-path="url(#wedge)"/></g>
<g transform="rotate(320.00 543.1 1778.0) translate(-4384.0 0)"><rect x="4872.1" y="1312.4" width="110.0" height="465.6" fill="url(#gNy)" filter="url(#texN)" clip-path="url(#wedge)"/></g>
<g transform="rotate(330.00 543.1 1778.0) translate(-4521.0 0)"><rect x="5009.1" y="1312.4" width="110.0" height="465.6" fill="url(#gNy)" filter="url(#texN)" clip-path="url(#wedge)"/></g>
<g transform="rotate(340.00 543.1 1778.0) translate(-4658.0 0)"><rect x="5146.1" y="1312.4" width="110.0" height="465.6" fill="url(#gNy)" filter="url(#texN)" clip-path="url(#wedge)"/></g>
<g transform="rotate(350.00 543.1 1778.0) translate(-4795.0 0)"><rect x="5283.1" y="1312.4" width="110.0" height="465.6" fill="url(#gNy)" filter="url(#texN)" clip-path="url(#wedge)"/></g>
<circle cx="543.1" cy="1778.0" r="298.9" fill="#808080"/>
<rect x="536.6" y="1472.1" width="4.2" height="4.2" fill="#ffa000"/><rect x="535.9" y="1465.3" width="4.2" height="4.2" fill="#ffa000"/><rect x="538.9" y="1464.9" width="4.2" height="4.2" fill="#ffd200"/><rect x="546.7" y="1467.8" width="4.2" height="4.2" fill="#ffa000"/><rect x="529.9" y="1461.2" width="4.2" height="4.2" fill="#ff2000"/><rect x="533.4" y="1466.4" width="4.2" height="4.2" fill="#ffa000"/><rect x="538.7" y="1464.0" width="4.2" height="4.2" fill="#ff6000"/><rect x="533.1" y="1468.0" width="4.2" height="4.2" fill="#ff6000"/><rect x="533.6" y="1460.9" width="4.2" height="4.2" fill="#ffd200"/><rect x="529.2" y="1460.4" width="4.2" height="4.2" fill="#ff2000"/><rect x="534.1" y="1471.1" width="4.2" height="4.2" fill="#c0ff40"/><rect x="534.6" y="1458.0" width="4.2" height="4.2" fill="#ffa000"/><rect x="400.7" y="1491.6" width="4.2" height="4.2" fill="#ffff00"/><rect x="403.2" y="1496.0" width="4.2" height="4.2" fill="#ffff00"/><rect x="395.9" y="1505.4" width="4.2" height="4.2" fill="#ffff00"/><rect x="395.4" y="1496.3" width="4.2" height="4.2" fill="#ffa000"/><rect x="396.4" y="1499.9" width="4.2" height="4.2" fill="#ffd200"/><rect x="406.4" y="1503.8" width="4.2" height="4.2" fill="#ffff00"/><rect x="409.1" y="1494.6" width="4.2" height="4.2" fill="#ffff00"/><rect x="409.6" y="1501.4" width="4.2" height="4.2" fill="#ffd200"/><rect x="392.9" y="1500.3" width="4.2" height="4.2" fill="#ffff00"/><rect x="394.7" y="1495.2" width="4.2" height="4.2" fill="#ffd200"/><rect x="386.4" y="1499.4" width="4.2" height="4.2" fill="#ffd200"/><rect x="397.1" y="1502.3" width="4.2" height="4.2" fill="#ffd200"/><rect x="759.4" y="1473.8" width="4.2" height="4.2" fill="#ff2000"/><rect x="753.0" y="1475.2" width="4.2" height="4.2" fill="#ff6000"/><rect x="764.1" y="1477.5" width="4.2" height="4.2" fill="#ff2000"/><rect x="771.5" y="1477.6" width="4.2" height="4.2" fill="#ff6000"/><rect x="755.1" y="1479.6" width="4.2" height="4.2" fill="#ff2000"/><rect x="773.8" y="1473.5" width="4.2" height="4.2" fill="#ff2000"/><rect x="763.2" y="1476.2" width="4.2" height="4.2" fill="#ff2000"/><rect x="751.6" y="1480.1" width="4.2" height="4.2" fill="#ff2000"/><rect x="771.5" y="1486.0" width="4.2" height="4.2" fill="#ff6000"/><rect x="763.3" y="1476.6" width="4.2" height="4.2" fill="#60ffa0"/><rect x="751.5" y="1478.6" width="4.2" height="4.2" fill="#ffa000"/><rect x="745.5" y="1468.1" width="4.2" height="4.2" fill="#ffa000"/><rect x="813.8" y="1547.6" width="4.2" height="4.2" fill="#ffd200"/><rect x="798.2" y="1553.8" width="4.2" height="4.2" fill="#ffff00"/><rect x="815.5" y="1547.0" width="4.2" height="4.2" fill="#ffd200"/><rect x="807.2" y="1551.3" width="4.2" height="4.2" fill="#ff6000"/><rect x="807.1" y="1546.1" width="4.2" height="4.2" fill="#ffd200"/><rect x="802.3" y="1554.2" width="4.2" height="4.2" fill="#ffa000"/><rect x="805.5" y="1554.9" width="4.2" height="4.2" fill="#ffd200"/><rect x="805.3" y="1552.0" width="4.2" height="4.2" fill="#ff6000"/><rect x="805.6" y="1549.7" width="4.2" height="4.2" fill="#ffff00"/><rect x="811.1" y="1548.7" width="4.2" height="4.2" fill="#ffa000"/><rect x="793.0" y="1555.6" width="4.2" height="4.2" fill="#ffff00"/><rect x="800.9" y="1555.6" width="4.2" height="4.2" fill="#ffff00"/><rect x="850.3" y="1850.0" width="4.2" height="4.2" fill="#ffa000"/><rect x="860.3" y="1856.0" width="4.2" height="4.2" fill="#ffd200"/><rect x="840.8" y="1853.1" width="4.2" height="4.2" fill="#ffa000"/><rect x="848.2" y="1850.2" width="4.2" height="4.2" fill="#ff2000"/><rect x="849.3" y="1850.1" width="4.2" height="4.2" fill="#ff6000"/><rect x="859.9" y="1847.6" width="4.2" height="4.2" fill="#ff2000"/><rect x="847.3" y="1850.1" width="4.2" height="4.2" fill="#ff6000"/><rect x="849.8" y="1845.4" width="4.2" height="4.2" fill="#ff2000"/><rect x="860.8" y="1850.7" width="4.2" height="4.2" fill="#ff2000"/><rect x="856.8" y="1853.6" width="4.2" height="4.2" fill="#ff2000"/><rect x="852.4" y="1853.3" width="4.2" height="4.2" fill="#ff2000"/><rect x="844.1" y="1849.8" width="4.2" height="4.2" fill="#ffd200"/><rect x="769.0" y="1979.3" width="4.2" height="4.2" fill="#c0ff40"/><rect x="770.1" y="1981.5" width="4.2" height="4.2" fill="#ff6000"/><rect x="761.8" y="1971.7" width="4.2" height="4.2" fill="#ffa000"/><rect x="759.4" y="1980.3" width="4.2" height="4.2" fill="#ff6000"/><rect x="773.0" y="1977.9" width="4.2" height="4.2" fill="#c0ff40"/><rect x="776.4" y="1974.9" width="4.2" height="4.2" fill="#ff6000"/><rect x="765.3" y="1970.8" width="4.2" height="4.2" fill="#ff2000"/><rect x="777.3" y="1977.6" width="4.2" height="4.2" fill="#ff6000"/><rect x="776.6" y="1967.8" width="4.2" height="4.2" fill="#ff2000"/><rect x="770.0" y="1975.2" width="4.2" height="4.2" fill="#c0ff40"/><rect x="775.8" y="1976.5" width="4.2" height="4.2" fill="#ff6000"/><rect x="766.3" y="1975.4" width="4.2" height="4.2" fill="#ffa000"/><rect x="677.4" y="2061.9" width="4.2" height="4.2" fill="#ff6000"/><rect x="660.0" y="2066.3" width="4.2" height="4.2" fill="#c0ff40"/><rect x="669.0" y="2053.8" width="4.2" height="4.2" fill="#ffd200"/><rect x="670.6" y="2053.8" width="4.2" height="4.2" fill="#ffa000"/><rect x="675.3" y="2051.3" width="4.2" height="4.2" fill="#c0ff40"/><rect x="678.7" y="2052.4" width="4.2" height="4.2" fill="#ffd200"/><rect x="665.7" y="2053.3" width="4.2" height="4.2" fill="#ffa000"/><rect x="649.6" y="2056.6" width="4.2" height="4.2" fill="#c0ff40"/><rect x="659.9" y="2056.5" width="4.2" height="4.2" fill="#ffd200"/><rect x="672.2" y="2056.7" width="4.2" height="4.2" fill="#c0ff40"/><rect x="669.1" y="2056.0" width="4.2" height="4.2" fill="#ff6000"/><rect x="664.2" y="2052.0" width="4.2" height="4.2" fill="#ff6000"/><rect x="533.2" y="2079.6" width="4.2" height="4.2" fill="#ffa000"/><rect x="530.8" y="2080.7" width="4.2" height="4.2" fill="#ff2000"/><rect x="526.6" y="2086.2" width="4.2" height="4.2" fill="#ffd200"/><rect x="529.0" y="2089.1" width="4.2" height="4.2" fill="#ffa000"/><rect x="544.0" y="2082.3" width="4.2" height="4.2" fill="#ffff00"/><rect x="535.2" y="2076.7" width="4.2" height="4.2" fill="#ffff00"/><rect x="522.0" y="2079.3" width="4.2" height="4.2" fill="#ffa000"/><rect x="537.1" y="2077.6" width="4.2" height="4.2" fill="#ffd200"/><rect x="527.5" y="2076.6" width="4.2" height="4.2" fill="#ffff00"/><rect x="533.0" y="2078.8" width="4.2" height="4.2" fill="#ffff00"/><rect x="532.8" y="2075.7" width="4.2" height="4.2" fill="#ffd200"/><rect x="537.9" y="2079.6" width="4.2" height="4.2" fill="#ffa000"/>
<path d="M610.6 2235.0 L620.0 2232.5 L618.4 2214.0 L613.3 2211.2 L606.2 2215.9 L610.6 2235.0M607.7 2205.4 L613.0 2209.7 L614.5 2202.3 L611.9 2193.5 L607.4 2198.3 L607.7 2205.4M645.0 2241.4 L651.3 2235.7 L660.3 2232.9 L669.3 2230.0 L668.9 2244.3 L663.2 2249.0 L645.0 2241.4M742.9 2237.4 L750.4 2232.9 L765.6 2228.1 L756.6 2236.0 L742.9 2237.4M814.3 2206.9 L820.1 2204.5 L825.8 2195.5 L825.2 2186.9 L815.4 2197.3 L812.5 2204.2 L814.3 2206.9M638.5 1762.2 L633.5 1761.2 L628.6 1760.3 L630.4 1758.1 L632.2 1755.7 L633.9 1753.3 L635.3 1754.7 L636.7 1756.1 L638.1 1757.6 L639.5 1759.1 L640.8 1760.6 L638.5 1762.2M610.9 1677.2 L609.3 1675.1 L607.7 1673.0 L606.0 1671.0 L604.2 1669.0 L606.4 1669.8 L608.5 1670.6 L610.7 1671.4 L612.8 1672.3 L610.9 1677.2M633.4 1670.4 L630.9 1669.5 L628.5 1668.7 L626.1 1667.9 L628.1 1664.0 L630.3 1665.3 L632.5 1666.7 L634.7 1668.1 L633.4 1670.4M597.6 1832.5 L597.6 1830.0 L597.6 1827.6 L599.6 1827.1 L601.5 1826.5 L603.5 1825.9 L604.0 1828.7 L604.3 1831.6 L602.5 1832.3 L600.6 1833.1 L598.8 1833.7 L597.6 1832.5M446.0 1715.4 L448.1 1719.4 L450.2 1723.3 L451.1 1726.1 L452.0 1728.8 L451.0 1730.7 L450.1 1732.6 L445.1 1729.1 L443.0 1723.9 L442.5 1721.2 L442.1 1718.6 L441.7 1715.9 L446.0 1715.4M449.7 1737.4 L455.4 1741.7 L456.9 1744.7 L453.5 1746.5 L448.2 1743.6 L446.1 1739.6 L449.7 1737.4M455.7 1753.8 L455.7 1755.4 L455.7 1757.0 L453.7 1758.2 L451.7 1759.4 L449.7 1760.7 L443.5 1761.3 L443.9 1759.4 L444.2 1757.5 L446.4 1755.5 L448.7 1753.6 L455.7 1753.8M432.1 1753.2 L433.0 1757.2 L432.1 1759.6 L431.3 1762.1 L420.2 1760.9 L419.8 1758.0 L419.4 1755.1 L426.1 1752.3 L432.1 1753.2M418.2 1763.3 L423.0 1766.9 L419.3 1769.6 L414.2 1768.8 L414.8 1766.1 L415.5 1763.5 L418.2 1763.3M406.1 1799.7 L407.5 1803.0 L409.1 1806.2 L403.4 1812.3 L396.4 1808.9 L394.9 1805.7 L393.4 1802.5 L406.1 1799.7M499.9 1573.1 L495.5 1579.5 L491.6 1582.3 L487.8 1585.2 L483.5 1584.2 L479.1 1583.3 L484.2 1590.0 L490.9 1593.5 L495.8 1595.3 L500.7 1597.3 L500.1 1602.8 L496.6 1606.4 L493.4 1610.1 L491.1 1618.1 L488.9 1620.6 L486.8 1623.2 L484.7 1625.9 L482.2 1628.7 L479.8 1631.6 L475.7 1631.5 L471.7 1631.5 L468.6 1631.8 L465.5 1632.1 L462.4 1632.4 L459.6 1633.4 L456.8 1634.3 L454.0 1635.4 L451.3 1636.6 L448.6 1637.9 L445.9 1639.2 L443.2 1640.5 L440.1 1641.4 L437.1 1642.3 L434.0 1643.2 L430.7 1644.0 L427.4 1644.9 L424.1 1645.9 L421.9 1649.2 L419.7 1652.5 L417.6 1655.8 L415.6 1659.1 L414.1 1662.5 L412.7 1665.9 L411.3 1669.4 L413.5 1676.4 L407.6 1676.2 L401.6 1676.3 L405.1 1683.5 L398.2 1679.6 L398.9 1686.5 L394.8 1688.9 L390.8 1691.5 L388.2 1693.9 L385.5 1696.3 L382.9 1698.8 L376.4 1702.4 L373.7 1697.9 L370.9 1700.8 L368.2 1703.7 L367.4 1708.0 L366.7 1712.2 L366.1 1716.4 L359.8 1715.9 L364.6 1721.0 L363.6 1724.1 L362.7 1727.3 L361.8 1730.4 L359.8 1733.7 L357.9 1736.9 L356.0 1740.3 L355.9 1743.6 L355.9 1747.0 L356.0 1750.4 L363.6 1752.5 L370.6 1747.9 L377.5 1754.4 L372.2 1757.6 L367.0 1761.0 L370.9 1766.6 L380.1 1766.2 L389.3 1765.9 L391.7 1768.7 L385.4 1772.5 L372.3 1776.5 L361.9 1781.2 L359.3 1784.4 L356.8 1787.8 L371.1 1791.5 L371.9 1795.2 L372.7 1798.9 L367.3 1804.3 L356.9 1806.2 L351.2 1803.3 L345.6 1800.5 L339.9 1797.6 L341.2 1792.1 L325.0 1787.5 L322.2 1782.8 L319.5 1778.0 L310.6 1772.3 L301.9 1766.2 L293.1 1762.1 L284.4 1757.6 L274.4 1756.9 L272.2 1762.4 L258.3 1766.1 L258.1 1774.0 L254.4 1779.8 L250.8 1785.7 L247.6 1790.9 L244.4 1796.3 L241.4 1801.7 L241.3 1807.4 L241.3 1813.1 L241.4 1818.8 L223.9 1822.3 L215.4 1828.7 L210.5 1839.6 L218.7 1842.2 L236.0 1837.7 L246.3 1841.6 L256.6 1845.2 L270.1 1842.5 L279.9 1835.9 L293.1 1832.5 L309.6 1828.1 L310.9 1834.0 L312.4 1839.8 L310.8 1845.7 L309.4 1851.7 L306.7 1858.0 L308.5 1865.7 L292.7 1870.1 L288.1 1881.0 L295.5 1886.7 L306.2 1888.5 L311.3 1888.6 L298.6 1899.9 L291.5 1908.1 L284.6 1916.6 L283.8 1924.7 L282.4 1931.6 L281.1 1938.5 L274.3 1950.6 L268.8 1964.4 L259.7 1962.7 L251.5 1956.7 L239.4 1953.3 L236.7 1947.8 L234.1 1942.3 L231.5 1936.7 L228.3 1930.9 L225.1 1924.9 L222.0 1918.9 L215.0 1914.6 L207.9 1910.0 L189.4 1904.6 L185.5 1908.2 L202.6 1914.9 L211.9 1922.0 L213.6 1928.2 L215.4 1934.3 L204.9 1937.1 L198.2 1938.8 L194.0 1946.0 L191.1 1953.5 L193.8 1959.8 L196.6 1966.1 L205.2 1971.5 L203.7 1974.8 L193.3 1970.3 L187.0 1965.0 L180.8 1959.4 L173.0 1953.7 L165.4 1947.8 L171.8 1942.6 L183.7 1949.4 L180.3 1943.4 L177.0 1937.2 L170.8 1935.3 L162.2 1927.3 L152.5 1918.6 L142.5 1917.5 L135.7 1925.5 L128.4 1916.8 L123.4 1907.9 L114.9 1900.8 L105.7 1902.6 L96.1 1898.6 L89.4 1897.9 L76.8 1895.1 L64.9 1899.9 L57.0 1903.7 L49.7 1896.5 L38.5 1886.2 L28.7 1876.1M90.5 1532.3 L97.4 1525.3 L104.5 1518.6 L117.1 1519.5 L129.5 1520.6 L142.9 1523.0 L163.5 1523.9 L174.2 1526.4 L182.4 1532.4 L190.6 1538.4 L200.6 1545.8 L210.5 1553.1 L220.3 1560.3 L230.5 1564.4 L240.6 1568.5 L232.2 1577.6 L238.7 1581.8 L246.5 1578.7 L254.3 1575.8 L261.0 1573.0 L267.6 1570.4 L280.3 1572.7 L293.2 1573.8 L305.9 1575.4 L323.0 1579.8 L334.1 1581.4 L345.0 1583.3 L349.1 1580.6 L353.2 1577.9 L360.0 1578.2 L366.7 1578.6 L373.4 1579.3 L377.4 1577.0 L381.5 1574.9 L386.6 1572.1 L391.6 1569.5 L397.7 1568.5 L403.8 1567.6 L406.5 1559.4 L408.5 1554.0 L410.6 1548.5 L417.0 1542.9 L421.7 1558.9 L423.0 1552.0 L424.5 1545.1 L425.3 1536.6 L423.5 1527.3 L427.1 1520.6 L431.0 1513.9 L433.9 1507.7 L437.0 1501.5 L441.0 1497.4 L445.1 1493.3 L449.3 1489.3 L454.8 1484.7 L460.5 1480.1 L455.8 1487.8 L451.3 1495.5 L448.0 1501.8 L444.9 1508.1 L441.9 1514.4 L439.4 1521.3 L437.1 1528.2 L444.0 1526.4 L448.7 1524.2 L453.5 1522.2 L458.3 1520.2 L462.9 1531.2 L467.7 1531.2 L472.4 1531.4 L477.1 1531.7 L481.4 1544.5 L481.6 1554.7 L477.3 1557.1 L473.0 1559.7 L468.8 1562.4 L471.3 1571.9 L475.3 1570.5 L479.3 1569.3 L482.9 1568.2 L486.6 1567.2 L490.3 1566.2 L495.2 1569.6 L499.9 1573.1M484.2 1809.7 L485.1 1810.5 L486.1 1811.3 L487.0 1812.1 L488.0 1812.8 L489.0 1813.6 L490.0 1814.3 L490.9 1814.9 L491.9 1815.6 L488.9 1818.7 L492.2 1818.0 L495.4 1817.3 L495.3 1818.9 L495.2 1820.6 L495.2 1822.2 L494.7 1824.8 L494.3 1827.4 L496.1 1823.8 L498.1 1820.4 L500.3 1819.8 L502.5 1819.2 L504.6 1818.4 L505.9 1818.8 L507.2 1819.1 L508.5 1819.4 L509.8 1819.6 L511.3 1819.8 L512.9 1819.9 L513.6 1820.7 L514.3 1821.6 L515.0 1822.5 L515.7 1823.3 L516.4 1824.2 L517.0 1825.2 L517.6 1826.3 L518.2 1827.3 L518.9 1828.3 L519.4 1830.0 L520.0 1831.7 L520.7 1833.3 L521.5 1835.0 L517.5 1839.8 L516.5 1839.2 L515.5 1838.5 L514.5 1837.8 L513.5 1837.1 L512.5 1836.4 L511.6 1835.7 L510.7 1835.0 L509.7 1834.2 L508.8 1833.5 L509.7 1834.2 L510.7 1835.0 L511.6 1835.7 L512.5 1836.4 L513.5 1837.1 L514.5 1837.8 L515.5 1838.5 L516.5 1839.2 L517.5 1839.8 L514.2 1845.8 L516.1 1845.0 L518.0 1844.1 L519.8 1843.2 L521.6 1842.2 L523.0 1842.4 L524.4 1842.5 L525.8 1842.6 L526.7 1845.0 L527.7 1847.4 L525.9 1848.8 L524.1 1850.1 L522.2 1851.3 L520.3 1852.5 L518.6 1853.2 L516.8 1853.8 L515.0 1854.3 L517.6 1854.3 L511.0 1868.3 L508.6 1881.0 L505.6 1881.3 L502.5 1881.5 L501.8 1894.1 L495.3 1899.9 L497.1 1902.0 L499.0 1904.0 L495.5 1906.2 L492.0 1908.2 L488.4 1910.1 L485.9 1920.3 L483.3 1916.5 L480.9 1912.5 L481.4 1918.1 L482.0 1923.8 L482.8 1929.4 L479.4 1929.2 L475.9 1928.9 L472.5 1928.5 L469.0 1928.0 L472.2 1929.9 L475.4 1931.6 L478.7 1933.4 L474.8 1934.5 L470.8 1935.6 L466.8 1936.6 L462.8 1937.1 L458.8 1937.5 L454.8 1937.8 L450.7 1938.0 L447.7 1936.8 L444.7 1935.4 L438.7 1937.8 L432.5 1940.1 L428.1 1939.9 L423.5 1939.6 L419.0 1939.2 L414.4 1938.7 L409.0 1939.5 L403.7 1940.1 L396.4 1946.8 L384.2 1950.2 L379.7 1957.0 L368.2 1963.6 L363.1 1959.9 L361.2 1955.1 L359.5 1950.2 L357.9 1945.3 L358.5 1935.1 L364.4 1924.0 L370.6 1913.2 L379.9 1899.2 L386.7 1892.0 L398.8 1886.3 L404.8 1886.2 L410.7 1885.9 L409.8 1882.0 L409.0 1878.1 L408.3 1874.1 L414.2 1868.9 L414.7 1872.6 L415.3 1876.2 L415.9 1879.9 L417.0 1875.3 L418.3 1870.9 L419.6 1866.5 L421.1 1862.2 L424.1 1861.9 L429.4 1854.4 L434.9 1847.2 L439.9 1840.5 L439.8 1837.0 L439.9 1833.6 L439.1 1831.3 L438.3 1829.0 L437.6 1826.8 L437.0 1824.5 L436.4 1822.2 L434.7 1820.3 L437.9 1816.6 L441.2 1813.1 L442.2 1814.8 L443.3 1816.5 L444.5 1818.2 L445.6 1819.8 L447.1 1816.7 L448.7 1813.7 L450.4 1810.8 L453.4 1811.6 L456.3 1812.2 L459.3 1812.8 L462.3 1813.3 L465.3 1813.6 L466.5 1811.2 L467.8 1808.9 L475.4 1807.0 L477.1 1807.7 L478.9 1808.3 L480.7 1808.8 L482.4 1809.3 L484.2 1809.7M400.9 1778.2 L402.3 1780.7 L403.6 1783.1 L405.0 1785.5 L406.5 1787.8 L396.2 1789.0 L399.6 1792.0 L403.1 1794.8 L406.6 1797.4 L403.0 1802.2 L403.0 1804.7 L403.1 1807.2 L403.2 1809.8 L403.4 1812.3 L396.9 1816.8 L390.6 1821.5 L393.0 1823.7 L395.5 1825.9 L393.5 1829.8 L391.5 1833.8 L389.7 1837.8 L382.7 1846.1 L374.2 1843.8 L373.1 1848.1 L372.0 1852.4 L371.1 1856.7 L370.4 1861.5 L369.9 1866.3 L369.4 1871.1 L362.0 1872.3 L351.7 1871.4 L343.3 1871.2 L334.7 1870.8 L329.2 1880.0 L321.7 1876.6 L322.9 1871.5 L324.2 1866.5 L324.6 1861.9 L325.1 1857.3 L325.8 1852.8 L327.9 1847.9 L330.1 1843.1 L332.4 1838.4 L330.4 1834.3 L328.4 1830.2 L326.5 1826.0 L334.8 1822.3 L337.8 1825.4 L340.8 1828.4 L343.8 1831.4 L346.9 1834.3 L355.8 1833.5 L364.7 1832.5 L365.7 1828.9 L366.7 1825.3 L367.7 1821.7 L368.9 1818.2 L370.1 1814.8 L370.5 1811.5 L371.0 1808.3 L371.6 1805.2 L372.2 1802.0 L372.9 1798.5 L373.6 1795.1 L374.4 1791.6 L375.2 1788.3 L385.4 1783.5 L400.9 1778.2M476.2 1776.2 L477.6 1777.6 L478.9 1778.9 L480.3 1780.2 L481.7 1781.4 L483.2 1782.5 L482.0 1784.0 L480.9 1785.5 L486.1 1785.6 L486.6 1786.6 L487.2 1787.6 L487.8 1788.5 L488.4 1789.5 L489.1 1790.4 L489.7 1791.3 L489.7 1792.4 L489.8 1793.4 L489.8 1794.5 L489.9 1795.5 L490.0 1796.6 L490.1 1797.7 L490.2 1798.7 L490.4 1799.8 L490.6 1800.9 L490.8 1802.0 L490.3 1803.5 L489.8 1805.2 L489.4 1806.8 L484.6 1808.7 L483.3 1808.0 L482.0 1807.3 L480.7 1806.5 L479.4 1805.7 L478.2 1804.9 L473.9 1805.0 L469.7 1805.0 L465.4 1804.8 L463.6 1803.6 L461.8 1802.4 L460.0 1801.2 L458.2 1799.9 L456.5 1798.5 L450.9 1801.0 L436.0 1801.0 L437.0 1797.1 L429.2 1797.1 L429.3 1795.0 L429.4 1792.9 L429.6 1790.8 L429.8 1788.8 L430.1 1786.7 L430.4 1784.7 L430.0 1782.5 L429.6 1780.4 L429.3 1778.2 L431.1 1775.5 L435.3 1777.7 L439.6 1779.8 L449.9 1781.3 L462.6 1780.1 L466.9 1778.7 L471.1 1777.4 L476.2 1776.2M463.2 1768.6 L466.8 1770.5 L470.5 1772.2 L470.8 1773.5 L471.2 1774.9 L467.7 1776.4 L464.3 1778.1 L453.3 1778.9 L445.6 1775.8 L446.5 1773.9 L447.5 1772.0 L454.3 1772.7 L456.1 1771.0 L457.9 1769.4 L463.2 1768.6M420.8 1773.7 L421.2 1776.0 L421.6 1778.2 L422.1 1780.6 L422.6 1782.9 L423.1 1785.3 L423.7 1787.6 L423.4 1789.9 L423.1 1792.2 L422.9 1794.6 L422.7 1796.9 L422.6 1799.2 L417.6 1800.6 L416.3 1798.2 L415.1 1795.9 L413.9 1793.5 L412.8 1791.0 L412.9 1788.4 L413.1 1785.9 L413.3 1783.3 L413.5 1780.8 L413.9 1778.2 L414.7 1775.9 L415.7 1773.5 L420.8 1773.7M406.0 1763.6 L409.0 1768.4 L408.3 1771.1 L407.6 1773.8 L407.0 1776.6 L401.9 1773.9 L396.8 1771.1 L392.8 1765.9 L400.0 1763.0 L406.0 1763.6M400.9 1746.7 L407.6 1752.9 L407.4 1755.5 L407.3 1758.2 L407.2 1760.8 L391.6 1760.2 L386.3 1754.3 L392.3 1750.0 L400.9 1746.7M408.6 1702.5 L411.9 1708.1 L415.4 1713.5 L414.4 1716.6 L413.4 1719.7 L410.7 1721.5 L408.1 1723.4 L405.4 1725.4 L408.0 1731.0 L396.5 1730.1 L408.9 1736.7 L408.4 1739.9 L408.0 1743.1 L402.4 1740.3 L387.6 1738.9 L383.8 1741.1 L380.0 1743.4 L376.2 1745.9 L370.3 1740.0 L371.4 1736.6 L372.6 1733.2 L373.8 1729.8 L372.5 1724.9 L371.4 1719.9 L372.5 1716.7 L373.7 1713.5 L374.9 1710.3 L376.2 1707.2 L379.7 1704.7 L383.2 1702.4 L389.5 1701.4 L395.7 1700.6 L408.6 1702.5M419.0 1687.8 L424.0 1694.9 L429.3 1701.8 L435.0 1702.6 L434.1 1704.9 L433.2 1707.3 L432.4 1709.6 L430.5 1711.5 L428.7 1713.4 L426.9 1715.4 L425.1 1717.4 L417.2 1717.7 L416.2 1713.8 L415.4 1709.9 L414.6 1705.9 L407.9 1698.4 L408.1 1694.7 L408.5 1690.9 L412.0 1689.8 L415.5 1688.8 L419.0 1687.8M433.2 1720.3 L439.6 1726.8 L439.1 1729.1 L438.7 1731.3 L438.4 1733.5 L435.5 1734.9 L432.6 1736.5 L436.9 1739.6 L436.9 1742.1 L429.9 1741.6 L428.8 1743.6 L427.8 1745.6 L422.1 1743.5 L421.9 1741.1 L421.8 1738.7 L421.7 1736.2 L421.2 1732.7 L420.7 1729.0 L422.4 1725.0 L428.1 1727.0 L429.8 1724.7 L431.5 1722.5 L433.2 1720.3M320.2 1817.3 L319.6 1813.4 L319.0 1809.5 L318.5 1805.6 L318.0 1801.7 L319.1 1797.6 L320.3 1793.6 L321.6 1789.6 L336.0 1792.5 L336.8 1796.0 L337.8 1799.6 L338.8 1803.1 L332.7 1808.1 L326.8 1813.4 L320.2 1817.3M220.1 1969.8 L224.0 1976.3 L228.0 1982.6 L227.1 1995.2 L232.8 2003.4 L243.5 2006.3 L251.6 1997.7 L254.0 1988.0 L251.0 1978.8 L264.3 1969.6 L259.3 1963.7 L244.1 1964.8 L227.9 1965.9 L220.1 1969.8M234.8 1575.5 L245.7 1569.7 L254.9 1566.7 L264.2 1564.0 L272.4 1564.2 L267.1 1568.8 L261.8 1573.6 L254.3 1575.8 L246.9 1578.2 L234.8 1575.5M647.5 2291.2 L636.0 2279.1 L638.3 2267.7 L629.8 2255.2 L635.0 2251.0 L624.8 2250.8 L610.5 2257.3 L602.1 2258.7 L593.8 2260.0 L585.4 2261.2 L576.9 2261.9 L568.5 2262.4 L560.1 2264.3 L551.6 2266.1 L543.1 2269.9 L534.4 2273.6 L521.2 2279.6 L509.2 2275.2 L497.4 2270.5 L491.3 2270.9 L482.1 2289.4 L465.9 2294.9M842.8 2198.2 L836.9 2183.8 L830.8 2171.1 L822.5 2177.1 L817.0 2184.1 L811.3 2191.0 L802.4 2192.9 L793.5 2194.7 L786.7 2199.9 L779.8 2205.0 L764.6 2207.1 L751.6 2196.1 L744.8 2187.9 L743.3 2179.5 L747.9 2171.4 L757.1 2164.1 L763.6 2159.8 L769.9 2155.5 L774.3 2148.0 L778.5 2140.5 L784.5 2135.9 L790.5 2131.3 L799.3 2130.6 L808.1 2129.7 L816.1 2124.3 L823.9 2118.6 L828.1 2111.7 L832.2 2104.8 L824.7 2095.2 L810.6 2096.8 L796.6 2096.6 L787.3 2096.3 L781.2 2099.7 L774.9 2103.0 L771.2 2109.9 L767.3 2116.7 L756.5 2113.0 L759.1 2104.3 L751.8 2105.6 L744.5 2106.7 L741.7 2115.2 L740.3 2125.1 L740.5 2138.6 L743.2 2154.3 L755.0 2161.8 L756.6 2163.2 L750.3 2167.7 L741.9 2176.7 L737.5 2176.6 L726.6 2180.6 L722.0 2189.4 L716.1 2189.6 L717.9 2200.0 L725.6 2208.1 L734.4 2207.7 L732.1 2219.0 L729.9 2229.1 L722.4 2228.7 L713.9 2220.7 L715.1 2214.6 L706.4 2210.2 L698.6 2205.3 L692.1 2201.1 L687.7 2186.4 L678.3 2182.2 L668.0 2180.2 L657.8 2178.0 L648.2 2170.3 L636.7 2162.0 L627.9 2167.1 L631.0 2177.6 L641.0 2182.5 L652.3 2194.2 L662.2 2193.5 L671.4 2197.7 L680.8 2201.7 L686.1 2205.3 L674.0 2206.0 L672.3 2214.0 L678.9 2219.6 L676.1 2227.0 L671.2 2233.8 L668.4 2223.8 L664.6 2213.0 L655.4 2209.1 L647.2 2204.9 L634.7 2201.5 L624.2 2195.4 L618.9 2187.2 L610.6 2181.5 L603.4 2181.7 L597.0 2187.6 L587.0 2195.9 L575.8 2192.9 L566.5 2196.5 L567.1 2206.6 L560.7 2216.0 L549.3 2219.4 L540.7 2234.8 L544.7 2243.1 L537.3 2254.6 L526.1 2263.8 L516.0 2263.3 L505.8 2262.7 L494.9 2269.2 L489.0 2260.0 L480.3 2254.7 L467.6 2255.0 L471.9 2237.6 L466.5 2235.7 L473.5 2222.2 L477.9 2204.3 L475.0 2193.6 L485.5 2188.1 L494.4 2189.8 L503.3 2191.2 L512.3 2193.0 L521.3 2194.6 L532.2 2195.0 L534.6 2184.1 L534.9 2169.3 L528.5 2158.3 L521.1 2154.0 L513.9 2149.6 L513.1 2142.8 L524.0 2141.6 L532.9 2142.9 L534.4 2133.3 L543.7 2135.3 L552.3 2128.5 L558.0 2119.7 L563.7 2115.6 L568.9 2105.8 L573.8 2096.9 L582.0 2095.0 L590.3 2090.1 L588.8 2080.0 L585.3 2071.1 L585.9 2060.8 L590.3 2057.3 L594.7 2053.7 L595.7 2064.7 L598.7 2067.0 L595.3 2074.2 L594.0 2079.1 L601.9 2083.4 L605.7 2085.5 L613.1 2081.0 L620.5 2084.0 L625.9 2079.7 L631.2 2075.3 L635.9 2072.4 L640.6 2069.4 L646.9 2071.1 L652.5 2063.1 L649.7 2054.3 L647.4 2041.3 L650.9 2036.9 L660.4 2037.8 L652.0 2028.5 L651.2 2020.9 L654.9 2017.7 L658.5 2014.5 L662.8 2012.9 L667.1 2011.2 L670.0 2007.0 L672.9 2002.8 L664.8 2002.1 L661.1 2004.6 L657.3 2007.0 L653.0 2011.1 L648.7 2015.1 L642.4 2017.8 L634.8 2012.1 L630.0 1998.5 L629.4 1986.2 L631.2 1980.6 L632.9 1975.0 L634.8 1970.2 L629.2 1967.0 L625.4 1968.6 L621.6 1970.3 L622.4 1982.3 L619.9 1988.0 L617.4 1993.6 L615.6 2003.7 L617.2 2017.3 L625.5 2024.1 L628.8 2029.7 L626.9 2041.4 L624.6 2053.1 L626.7 2060.2 L621.7 2061.6 L616.8 2062.9 L609.7 2071.3 L606.7 2062.5 L599.9 2049.9 L595.1 2040.6 L591.2 2037.6 L587.4 2042.9 L581.6 2052.1 L576.7 2051.9 L571.8 2051.5 L568.6 2042.7 L565.3 2032.0 L564.0 2022.2 L562.8 2012.4 L566.9 2008.1 L570.8 2003.8 L574.6 1999.4 L578.3 1991.3 L581.6 1983.2 L584.6 1975.1 L587.8 1968.7 L590.8 1962.3 L593.4 1955.8 L595.7 1951.1 L597.8 1946.4 L599.8 1941.7 L601.6 1937.0 L603.2 1932.3 L605.5 1929.5 L607.7 1926.6 L609.9 1923.8 L612.3 1921.7 L614.6 1919.6 L616.9 1917.4 L620.8 1918.2 L624.8 1919.0 L629.9 1923.1 L633.4 1922.7 L636.8 1922.3 L640.3 1921.9 L643.8 1921.3 L648.3 1921.0 L652.8 1920.7 L657.3 1920.2 L661.9 1919.5 L672.1 1925.8 L671.5 1932.1 L670.7 1938.4 L665.6 1940.2 L660.4 1941.8 L655.7 1941.9 L651.1 1941.8 L662.0 1950.4 L667.1 1954.4 L672.0 1954.1 L677.0 1953.8 L678.0 1946.7 L678.8 1939.8 L679.0 1934.4 L679.1 1929.0 L673.6 1919.7 L668.0 1910.6 L672.1 1908.4 L676.2 1906.1 L685.6 1912.8 L686.6 1908.6 L687.4 1904.3 L687.9 1900.0 L688.3 1895.6 L688.6 1891.3 L688.8 1887.0 L688.9 1882.8 L690.3 1879.6 L691.7 1876.4 L693.0 1873.1 L694.3 1869.9 L693.1 1863.2 L695.7 1861.1 L698.2 1858.9 L700.7 1856.7 L703.2 1854.3 L705.6 1852.0 L708.0 1849.5 L710.4 1847.0 L712.7 1844.5 L702.5 1844.0 L692.4 1843.2 L684.8 1836.7 L677.1 1830.5 L678.2 1827.5 L679.3 1824.4 L680.3 1821.3 L694.0 1824.1 L702.0 1827.5 L710.0 1831.1 L718.0 1834.7 L726.0 1838.4 L734.0 1842.3 L729.3 1836.1 L724.3 1830.2 L719.2 1824.5 L709.8 1822.4 L700.5 1820.3 L691.2 1818.2 L681.9 1816.0 L692.1 1814.3 L692.8 1811.7 L693.3 1809.1 L693.8 1806.5 L694.3 1803.8 L694.7 1801.2 L680.0 1800.4 L679.5 1797.7 L679.0 1794.9 L678.5 1792.2 L677.9 1789.6 L677.2 1786.9 L667.9 1783.9 L666.4 1781.4 L664.9 1778.9 L663.4 1776.5 L661.8 1774.1 L660.2 1771.9 L660.3 1769.5 L660.4 1767.1 L660.4 1764.6 L658.7 1762.7 L656.9 1760.9 L655.1 1759.1 L653.3 1757.4 L649.5 1756.1 L645.7 1754.9 L645.7 1753.0 L645.7 1751.1 L647.9 1747.9 L650.1 1744.7 L649.8 1742.7 L649.5 1740.7 L649.1 1738.7 L648.7 1736.6 L648.3 1734.6 L653.4 1729.1 L657.1 1730.2 L660.9 1731.4 L664.6 1732.7 L668.3 1734.1 L668.3 1731.6 L668.3 1729.1 L668.2 1726.5 L668.0 1723.9 L667.5 1721.5 L667.0 1719.1 L666.4 1716.7 L665.7 1714.2 L665.0 1711.8 L667.6 1707.6 L665.8 1705.1 L664.0 1702.7 L662.2 1700.4 L656.5 1702.7 L655.5 1700.4 L654.4 1698.2 L653.3 1695.9 L652.2 1693.7 L659.0 1684.2 L665.8 1672.1 L656.6 1674.8 L655.0 1671.8 L653.4 1668.9 L651.7 1666.0 L649.2 1664.5 L646.7 1663.1 L644.2 1661.8 L641.7 1660.5 L639.2 1667.4 L635.9 1667.4 L632.6 1667.5 L631.0 1665.2 L629.3 1662.8 L627.6 1660.5 L625.9 1658.2 L624.1 1655.9 L622.2 1653.7 L620.3 1651.5 L618.3 1649.3 L617.8 1644.7 L617.2 1640.0 L616.4 1635.4 L613.9 1634.1 L611.3 1632.9 L608.7 1631.7 L606.1 1630.5 L603.5 1629.4 L600.8 1628.4 L601.3 1614.6 L597.8 1613.9 L594.4 1613.3 L591.0 1612.7 L587.5 1612.2 L584.2 1610.7 L580.8 1609.3 L577.4 1608.0 L575.7 1600.6 L570.7 1611.2 L567.7 1610.8 L564.7 1610.3 L561.7 1610.0 L558.6 1609.7 L555.6 1609.4 L552.5 1609.2 L549.5 1606.7 L546.3 1604.3 L543.1 1602.0M543.1 1602.0 L540.0 1598.1 L536.7 1594.2 L533.3 1590.9 L529.8 1587.6 L526.2 1584.3 L522.7 1583.5 L519.1 1582.7 L515.6 1582.0 L511.2 1579.1 L506.8 1576.2 L510.2 1570.3 L514.4 1559.8 L519.5 1562.8 L524.5 1565.8 L528.9 1565.5 L533.2 1565.3 L537.5 1565.1 L543.1 1563.3M543.1 1563.3 L545.1 1552.2 L547.2 1541.0 L551.4 1541.1 L555.5 1541.3 L559.8 1539.5 L564.1 1537.7 L568.5 1536.0 L573.2 1532.5 L578.1 1529.0 L583.1 1525.7 L588.2 1522.4 L592.6 1523.2 L597.1 1524.1 L601.5 1525.1 L605.9 1526.2 L611.6 1526.7 L617.3 1527.4 L628.9 1513.9 L629.4 1504.4 L629.7 1494.8 L638.9 1483.1 L646.3 1478.2 L653.9 1473.5 L665.3 1467.7 L678.8 1463.0 L676.8 1477.6 L673.9 1486.6 L670.9 1495.5 L667.8 1504.3 L661.7 1511.7 L655.7 1519.1 L647.1 1520.5 L640.2 1525.1 L633.4 1529.9 L623.0 1534.9 L626.1 1541.7 L628.9 1548.4 L633.6 1550.2 L638.2 1552.1 L642.8 1554.1 L651.3 1546.1 L660.1 1538.2 L664.2 1540.3 L668.4 1542.4 L672.4 1544.7 L676.3 1547.2 L680.2 1549.8 L684.0 1552.5 L687.7 1555.3 L691.4 1558.1 L695.1 1560.9 L699.6 1562.6 L704.0 1564.4 L708.5 1566.3 L719.8 1563.7 L730.4 1560.6 L741.3 1557.9 L754.6 1551.2 L752.0 1546.0 L749.4 1540.7 L746.6 1535.5 L748.7 1521.4 L757.9 1513.7 L767.3 1506.0 L779.0 1496.9 L795.9 1492.2 L809.5 1487.3 L821.0 1485.2 L832.7 1483.3 L842.6 1486.2 L852.6 1489.4 L861.5 1496.3 L867.7 1498.8 L882.2 1495.4 L898.2 1495.5 L905.5 1499.9 L910.0 1488.8 L914.3 1477.4 L924.5 1464.7 L934.1 1461.4 L946.5 1468.4 L953.8 1476.3 L939.8 1484.4 L929.8 1488.7 L926.9 1497.1 L932.7 1505.2 L922.9 1515.0 L925.4 1529.8 L937.0 1536.6 L940.1 1537.6 L924.8 1540.4 L923.2 1549.6 L937.1 1555.1 L949.2 1562.1 L957.5 1562.3 L961.7 1547.9 L962.5 1540.7 L957.4 1534.0 L952.2 1527.3 L946.8 1520.8 L960.7 1527.1 L982.0 1529.7 L989.1 1520.5M836.5 2051.6 L835.8 2041.5 L834.7 2031.5 L837.2 2024.8 L839.6 2018.1 L844.5 2013.5 L849.4 2008.8 L862.0 2016.6 L860.1 2032.0 L874.2 2036.7 L888.6 2041.2 L901.9 2038.7 L912.8 2051.6 L930.7 2060.7 L926.0 2072.3 L920.9 2083.9 L911.8 2087.4 L902.8 2090.7 L891.5 2083.0 L884.2 2069.3 L868.1 2064.5 L853.6 2062.5 L845.0 2057.1 L836.5 2051.6M508.2 2127.8 L515.0 2127.5 L521.8 2127.0 L529.4 2125.5 L537.1 2123.8 L544.3 2121.5 L551.4 2119.0 L552.8 2104.8 L544.8 2100.2 L543.1 2096.5 L535.1 2083.3 L532.7 2074.9 L527.6 2073.7 L532.9 2069.3 L534.2 2060.2 L525.9 2058.9 L528.9 2049.9 L524.1 2049.6 L519.4 2049.2 L514.6 2058.9 L515.2 2068.2 L511.4 2069.6 L517.1 2074.8 L517.5 2082.3 L527.1 2083.9 L524.5 2090.3 L526.3 2097.9 L517.3 2098.2 L517.5 2103.0 L520.0 2107.9 L512.6 2113.0 L519.0 2114.4 L525.4 2115.8 L516.3 2119.0 L508.2 2127.8M508.4 2107.8 L509.7 2095.6 L512.4 2085.6 L510.3 2079.8 L503.6 2078.0 L497.5 2082.8 L488.8 2086.1 L487.5 2093.5 L490.1 2101.5 L483.1 2108.0 L487.3 2111.6 L496.4 2110.1 L502.5 2109.0 L508.4 2107.8M457.0 1967.0 L463.4 1962.1 L468.9 1964.4 L472.0 1971.2 L479.5 1968.2 L483.5 1968.9 L487.6 1969.5 L491.6 1970.1 L493.2 1984.1 L486.7 1991.6 L482.0 1992.6 L477.2 1993.6 L472.9 1994.1 L468.6 1994.5 L465.4 1991.5 L462.3 1988.4 L456.5 1985.1 L461.7 1981.5 L458.7 1977.9 L455.8 1974.2 L457.0 1967.0M558.6 1863.1 L559.9 1861.3 L561.2 1859.6 L562.4 1857.9 L564.0 1856.9 L565.6 1855.9 L567.2 1854.8 L568.3 1853.9 L569.5 1853.0 L570.6 1852.0 L571.7 1851.0 L572.8 1850.1 L574.4 1850.3 L576.0 1850.5 L577.6 1850.7 L579.3 1850.9 L580.9 1851.0 L582.5 1855.9 L581.2 1857.2 L580.0 1858.5 L578.7 1859.8 L577.3 1861.1 L576.3 1864.0 L575.1 1866.8 L573.8 1869.7 L575.2 1883.6 L572.9 1883.4 L570.7 1883.1 L566.8 1876.1 L563.9 1871.8 L561.1 1867.5 L558.6 1863.1M663.3 1873.3 L659.3 1866.5 L655.0 1859.9 L650.9 1853.8 L646.7 1847.9 L645.5 1843.9 L644.3 1839.9 L642.9 1836.1 L643.7 1834.2 L644.4 1832.3 L645.1 1830.3 L645.7 1828.4 L646.4 1826.5 L646.9 1824.5 L647.5 1822.6 L648.0 1820.6 L648.5 1818.7 L652.7 1822.0 L653.0 1824.7 L653.3 1827.3 L653.6 1830.0 L653.8 1832.7 L653.9 1835.4 L654.0 1838.2 L654.0 1841.0 L655.4 1845.4 L656.6 1850.0 L663.1 1857.4 L669.4 1865.1 L675.0 1865.3 L680.7 1865.3 L679.0 1867.9 L677.2 1870.5 L675.4 1873.1 L669.3 1873.3 L663.3 1873.3M621.9 1776.8 L620.1 1775.2 L618.4 1773.8 L616.6 1772.4 L614.7 1771.1 L617.3 1769.3 L619.9 1767.5 L622.4 1765.5 L624.9 1763.4 L634.2 1762.6 L633.8 1764.3 L633.4 1766.0 L633.0 1767.7 L632.5 1769.4 L630.4 1771.1 L628.3 1772.8 L626.1 1774.4 L621.9 1776.8M625.5 1689.9 L622.4 1689.3 L619.2 1688.9 L618.1 1687.0 L616.9 1685.1 L615.6 1683.3 L614.3 1681.5 L613.0 1679.7 L618.3 1676.1 L620.7 1677.1 L623.1 1678.1 L625.5 1679.3 L627.9 1680.5 L626.8 1685.2 L625.5 1689.9M784.0 1469.6 L773.0 1467.4 L767.0 1478.1 L761.0 1488.8 L753.4 1483.2 L751.6 1493.7 L749.5 1504.1 L742.1 1511.5 L734.8 1519.0 L733.0 1530.5 L743.5 1523.3 L749.0 1515.7 L754.6 1508.0 L760.1 1500.2 L766.1 1492.6 L772.0 1485.0 L778.0 1477.3 L784.0 1469.6M932.4 1440.8 L911.7 1440.3 L903.1 1433.4 L894.3 1426.8 L885.9 1423.0 L872.5 1424.8 L856.8 1423.4 L838.6 1429.6 L830.1 1435.9 L821.9 1439.8 L816.0 1434.9 L825.6 1419.0 L839.1 1412.5 L847.0 1402.7 L855.0 1395.5 L862.5 1390.6 L868.6 1392.9 L878.1 1395.4 L889.9 1406.1 L897.6 1404.4 L908.3 1410.3 L901.4 1417.2 L909.4 1423.0 L917.4 1429.0 L928.8 1436.7 L932.4 1440.8M821.6 1446.1 L810.8 1455.5 L802.8 1450.3 L795.8 1458.1 L788.8 1465.8 L786.5 1449.1 L781.1 1434.2 L799.6 1431.3 L807.7 1436.2 L815.8 1441.3 L821.6 1446.1M944.6 1443.5 L933.2 1440.1M928.4 1424.9 L915.1 1425.0 L908.4 1416.5 L918.6 1412.9" fill="none" stroke="#000" stroke-width="2" stroke-linejoin="round"/>
<circle cx="543.1" cy="1778.0" r="401.2" fill="none" stroke="#000" stroke-width="1.6"/>
<circle cx="543.1" cy="1778.0" r="259.5" fill="none" stroke="#000" stroke-width="1.6"/>
<circle cx="543.1" cy="1778.0" r="127.5" fill="none" stroke="#000" stroke-width="1.6"/>
<path d="M543.1 1778.0L543.1 2241.6M543.1 1778.0L944.6 2009.8M543.1 1778.0L944.6 1546.2M543.1 1778.0L543.1 1314.4M543.1 1778.0L141.6 1546.2M543.1 1778.0L141.6 2009.8" stroke="#000" stroke-width="1.6" fill="none"/>
<rect x="541.6" y="1776.5" width="3" height="3" fill="#fff"/>
</g>
<circle cx="543.1" cy="1778.0" r="463.6" fill="none" stroke="#000" stroke-width="3.2"/>
<g clip-path="url(#cS)">
<circle cx="1582.9" cy="1778.0" r="463.6" fill="#808080"/>
<g transform="rotate(0.00 1582.9 1778.0) translate(-0.0 0)"><rect x="1527.9" y="1312.4" width="110.0" height="465.6" fill="url(#gSy)" filter="url(#texS)" clip-path="url(#wedge)"/></g>
<g transform="rotate(10.00 1582.9 1778.0) translate(-137.0 0)"><rect x="1664.9" y="1312.4" width="110.0" height="465.6" fill="url(#gSy)" filter="url(#texS)" clip-path="url(#wedge)"/></g>
<g transform="rotate(20.00 1582.9 1778.0) translate(-274.0 0)"><rect x="1801.9" y="1312.4" width="110.0" height="465.6" fill="url(#gSy)" filter="url(#texS)" clip-path="url(#wedge)"/></g>
<g transform="rotate(30.00 1582.9 1778.0) translate(-411.0 0)"><rect x="1938.9" y="1312.4" width="110.0" height="465.6" fill="url(#gSy)" filter="url(#texS)" clip-path="url(#wedge)"/></g>
<g transform="rotate(40.00 1582.9 1778.0) translate(-548.0 0)"><rect x="2075.9" y="1312.4" width="110.0" height="465.6" fill="url(#gSy)" filter="url(#texS)" clip-path="url(#wedge)"/></g>
<g transform="rotate(50.00 1582.9 1778.0) translate(-685.0 0)"><rect x="2212.9" y="1312.4" width="110.0" height="465.6" fill="url(#gSy)" filter="url(#texS)" clip-path="url(#wedge)"/></g>
<g transform="rotate(60.00 1582.9 1778.0) translate(-822.0 0)"><rect x="2349.9" y="1312.4" width="110.0" height="465.6" fill="url(#gSy)" filter="url(#texS)" clip-path="url(#wedge)"/></g>
<g transform="rotate(70.00 1582.9 1778.0) translate(-959.0 0)"><rect x="2486.9" y="1312.4" width="110.0" height="465.6" fill="url(#gSy)" filter="url(#texS)" clip-path="url(#wedge)"/></g>
<g transform="rotate(80.00 1582.9 1778.0) translate(-1096.0 0)"><rect x="2623.9" y="1312.4" width="110.0" height="465.6" fill="url(#gSy)" filter="url(#texS)" clip-path="url(#wedge)"/></g>
<g transform="rotate(90.00 1582.9 1778.0) translate(-1233.0 0)"><rect x="2760.9" y="1312.4" width="110.0" height="465.6" fill="url(#gSy)" filter="url(#texS)" clip-path="url(#wedge)"/></g>
<g transform="rotate(100.00 1582.9 1778.0) translate(-1370.0 0)"><rect x="2897.9" y="1312.4" width="110.0" height="465.6" fill="url(#gSy)" filter="url(#texS)" clip-path="url(#wedge)"/></g>
<g transform="rotate(110.00 1582.9 1778.0) translate(-1507.0 0)"><rect x="3034.9" y="1312.4" width="110.0" height="465.6" fill="url(#gSy)" filter="url(#texS)" clip-path="url(#wedge)"/></g>
<g transform="rotate(120.00 1582.9 1778.0) translate(-1644.0 0)"><rect x="3171.9" y="1312.4" width="110.0" height="465.6" fill="url(#gSy)" filter="url(#texS)" clip-path="url(#wedge)"/></g>
<g transform="rotate(130.00 1582.9 1778.0) translate(-1781.0 0)"><rect x="3308.9" y="1312.4" width="110.0" height="465.6" fill="url(#gSy)" filter="url(#texS)" clip-path="url(#wedge)"/></g>
<g transform="rotate(140.00 1582.9 1778.0) translate(-1918.0 0)"><rect x="3445.9" y="1312.4" width="110.0" height="465.6" fill="url(#gSy)" filter="url(#texS)" clip-path="url(#wedge)"/></g>
<g transform="rotate(150.00 1582.9 1778.0) translate(-2055.0 0)"><rect x="3582.9" y="1312.4" width="110.0" height="465.6" fill="url(#gSy)" filter="url(#texS)" clip-path="url(#wedge)"/></g>
<g transform="rotate(160.00 1582.9 1778.0) translate(-2192.0 0)"><rect x="3719.9" y="1312.4" width="110.0" height="465.6" fill="url(#gSy)" filter="url(#texS)" clip-path="url(#wedge)"/></g>
<g transform="rotate(170.00 1582.9 1778.0) translate(-2329.0 0)"><rect x="3856.9" y="1312.4" width="110.0" height="465.6" fill="url(#gSy)" filter="url(#texS)" clip-path="url(#wedge)"/></g>
<g transform="rotate(180.00 1582.9 1778.0) translate(-2466.0 0)"><rect x="3993.9" y="1312.4" width="110.0" height="465.6" fill="url(#gSy)" filter="url(#texS)" clip-path="url(#wedge)"/></g>
<g transform="rotate(190.00 1582.9 1778.0) translate(-2603.0 0)"><rect x="4130.9" y="1312.4" width="110.0" height="465.6" fill="url(#gSy)" filter="url(#texS)" clip-path="url(#wedge)"/></g>
<g transform="rotate(200.00 1582.9 1778.0) translate(-2740.0 0)"><rect x="4267.9" y="1312.4" width="110.0" height="465.6" fill="url(#gSy)" filter="url(#texS)" clip-path="url(#wedge)"/></g>
<g transform="rotate(210.00 1582.9 1778.0) translate(-2877.0 0)"><rect x="4404.9" y="1312.4" width="110.0" height="465.6" fill="url(#gSy)" filter="url(#texS)" clip-path="url(#wedge)"/></g>
<g transform="rotate(220.00 1582.9 1778.0) translate(-3014.0 0)"><rect x="4541.9" y="1312.4" width="110.0" height="465.6" fill="url(#gSy)" filter="url(#texS)" clip-path="url(#wedge)"/></g>
<g transform="rotate(230.00 1582.9 1778.0) translate(-3151.0 0)"><rect x="4678.9" y="1312.4" width="110.0" height="465.6" fill="url(#gSy)" filter="url(#texS)" clip-path="url(#wedge)"/></g>
<g transform="rotate(240.00 1582.9 1778.0) translate(-3288.0 0)"><rect x="4815.9" y="1312.4" width="110.0" height="465.6" fill="url(#gSy)" filter="url(#texS)" clip-path="url(#wedge)"/></g>
<g transform="rotate(250.00 1582.9 1778.0) translate(-3425.0 0)"><rect x="4952.9" y="1312.4" width="110.0" height="465.6" fill="url(#gSy)" filter="url(#texS)" clip-path="url(#wedge)"/></g>
<g transform="rotate(260.00 1582.9 1778.0) translate(-3562.0 0)"><rect x="5089.9" y="1312.4" width="110.0" height="465.6" fill="url(#gSy)" filter="url(#texS)" clip-path="url(#wedge)"/></g>
<g transform="rotate(270.00 1582.9 1778.0) translate(-3699.0 0)"><rect x="5226.9" y="1312.4" width="110.0" height="465.6" fill="url(#gSy)" filter="url(#texS)" clip-path="url(#wedge)"/></g>
<g transform="rotate(280.00 1582.9 1778.0) translate(-3836.0 0)"><rect x="5363.9" y="1312.4" width="110.0" height="465.6" fill="url(#gSy)" filter="url(#texS)" clip-path="url(#wedge)"/></g>
<g transform="rotate(290.00 1582.9 1778.0) translate(-3973.0 0)"><rect x="5500.9" y="1312.4" width="110.0" height="465.6" fill="url(#gSy)" filter="url(#texS)" clip-path="url(#wedge)"/></g>
<g transform="rotate(300.00 1582.9 1778.0) translate(-4110.0 0)"><rect x="5637.9" y="1312.4" width="110.0" height="465.6" fill="url(#gSy)" filter="url(#texS)" clip-path="url(#wedge)"/></g>
<g transform="rotate(310.00 1582.9 1778.0) translate(-4247.0 0)"><rect x="5774.9" y="1312.4" width="110.0" height="465.6" fill="url(#gSy)" filter="url(#texS)" clip-path="url(#wedge)"/></g>
<g transform="rotate(320.00 1582.9 1778.0) translate(-4384.0 0)"><rect x="5911.9" y="1312.4" width="110.0" height="465.6" fill="url(#gSy)" filter="url(#texS)" clip-path="url(#wedge)"/></g>
<g transform="rotate(330.00 1582.9 1778.0) translate(-4521.0 0)"><rect x="6048.9" y="1312.4" width="110.0" height="465.6" fill="url(#gSy)" filter="url(#texS)" clip-path="url(#wedge)"/></g>
<g transform="rotate(340.00 1582.9 1778.0) translate(-4658.0 0)"><rect x="6185.9" y="1312.4" width="110.0" height="465.6" fill="url(#gSy)" filter="url(#texS)" clip-path="url(#wedge)"/></g>
<g transform="rotate(350.00 1582.9 1778.0) translate(-4795.0 0)"><rect x="6322.9" y="1312.4" width="110.0" height="465.6" fill="url(#gSy)" filter="url(#texS)" clip-path="url(#wedge)"/></g>
<circle cx="1582.9" cy="1778.0" r="45.5" fill="#808080"/>
<path d="M1168.9 1471.7 L1169.5 1487.5 L1160.6 1498.5 L1146.1 1509.3 L1163.6 1507.8 L1172.6 1511.5 L1184.9 1525.4 L1182.1 1541.9 L1178.0 1551.2 L1174.1 1560.6 L1187.5 1570.4 L1185.1 1580.9 L1182.8 1591.4 L1197.1 1589.8 L1196.6 1597.9 L1205.3 1603.1 L1213.9 1608.3 L1217.5 1618.4 L1221.3 1628.2 L1225.0 1629.7 L1238.8 1624.8 L1245.4 1634.0 L1252.1 1643.0 L1259.3 1650.5 L1268.0 1657.1 L1275.4 1656.3 L1276.4 1663.1 L1277.4 1669.8 L1282.7 1674.6 L1275.6 1681.1 L1270.8 1685.6 L1266.1 1690.1 L1253.9 1689.8 L1241.6 1689.7 L1232.2 1687.6 L1222.8 1685.5 L1210.5 1674.7 L1199.1 1669.8 L1187.7 1664.7 L1178.6 1660.1 L1169.4 1655.5 L1159.0 1654.8 L1149.4 1651.2 L1139.7 1647.6 L1129.9 1643.8 L1120.6 1638.4 L1107.1 1628.0 L1095.4 1620.5M1277.7 1658.4 L1287.1 1655.1 L1296.5 1652.1 L1305.9 1649.4 L1304.3 1659.8 L1302.7 1666.2 L1301.2 1672.7 L1295.0 1676.1 L1288.9 1679.6 L1283.6 1669.1 L1277.7 1658.4M1289.0 1616.4 L1290.1 1609.6 L1291.3 1602.8 L1297.8 1597.8 L1300.6 1605.7 L1294.3 1614.7 L1289.0 1616.4M1745.3 1287.0 L1745.3 1292.7 L1756.1 1302.2 L1765.7 1301.7 L1775.4 1301.5 L1783.9 1304.4 L1792.4 1307.5 L1801.2 1309.8 L1810.1 1312.2 L1825.2 1312.5M1832.6 2228.4 L1829.9 2217.6 L1827.2 2206.8 L1824.4 2196.2 L1830.7 2186.4 L1836.7 2176.4 L1838.7 2161.5 L1856.0 2160.9 L1863.7 2154.0 L1871.2 2147.0 L1879.5 2144.3 L1887.9 2141.5 L1900.0 2149.2 L1912.7 2150.8 L1923.9 2156.7M1934.7 2142.3 L1942.0 2139.6M2013.3 2062.9 L2019.0 2054.0 L2024.5 2045.1 L2029.9 2036.0 L2029.1 2025.3 L2028.1 2014.7 L2036.5 2006.6 L2044.8 1998.3 L2053.6 1997.5M1840.4 2140.3 L1832.1 2145.2 L1823.8 2149.9 L1815.4 2154.4 L1808.4 2143.2 L1809.5 2127.0 L1815.6 2123.0 L1827.9 2130.5 L1840.4 2140.3M1647.8 2284.5 L1630.4 2271.4 L1621.2 2264.7 L1616.1 2253.4 L1607.8 2254.0 L1599.5 2254.3 L1596.7 2244.0 L1606.9 2236.3 L1608.0 2226.9 L1619.3 2211.8 L1624.2 2214.4 L1622.3 2227.9 L1632.6 2235.2 L1627.4 2248.3 L1633.9 2263.5 L1640.7 2274.0 L1647.8 2284.5M1639.6 2220.9 L1628.7 2214.0 L1626.5 2207.0 L1633.6 2191.0 L1644.6 2181.5 L1647.7 2164.9 L1656.4 2156.4 L1665.3 2157.5 L1674.3 2158.5 L1673.2 2168.9 L1664.9 2180.9 L1658.7 2187.2 L1652.4 2193.4 L1646.9 2206.5 L1639.6 2220.9M1582.9 1829.6 L1582.0 1829.3 L1581.1 1829.0 L1580.2 1828.7 L1579.4 1828.4 L1578.5 1828.0 L1577.7 1827.6 L1576.9 1827.3 L1576.0 1826.9 L1575.2 1826.5 L1574.4 1826.0 L1573.6 1825.6 L1572.9 1825.2 L1572.2 1824.5 L1571.4 1823.8 L1570.8 1823.1 L1570.1 1822.4 L1569.5 1821.7 L1568.9 1820.9 L1568.3 1820.2 L1567.7 1819.4 L1567.1 1818.7 L1566.6 1817.9 L1565.8 1817.9 L1564.9 1817.9 L1564.0 1817.8 L1563.2 1817.7 L1562.3 1817.6 L1561.5 1817.5 L1560.6 1817.4 L1559.7 1817.2 L1558.8 1817.0 L1558.0 1816.8 L1557.1 1816.6 L1556.2 1816.4 L1555.3 1816.2 L1554.5 1815.9 L1554.6 1817.2 L1554.8 1818.5 L1555.0 1819.8 L1555.3 1821.1 L1555.6 1822.4 L1556.0 1823.7 L1556.4 1825.0 L1556.8 1826.3 L1557.3 1827.6 L1553.7 1835.8 L1550.3 1844.1 L1548.3 1845.1 L1546.2 1846.1 L1544.2 1847.0 L1542.0 1847.9 L1539.9 1848.7 L1537.7 1849.5 L1535.4 1850.3 L1536.0 1852.4 L1536.5 1854.6 L1537.2 1856.8 L1537.9 1859.0 L1538.6 1861.1 L1539.5 1863.3 L1540.4 1865.5 L1541.3 1867.7 L1542.4 1869.9 L1543.5 1872.0 L1544.6 1874.2 L1540.6 1881.8 L1539.1 1880.2 L1537.6 1878.6 L1536.2 1877.0 L1534.8 1875.4 L1533.5 1873.8 L1530.3 1875.3 L1527.0 1876.8 L1523.7 1878.2 L1520.3 1879.4 L1516.8 1880.6 L1513.2 1881.7 L1510.8 1881.2 L1508.3 1880.6 L1505.9 1879.9 L1503.5 1879.2 L1501.0 1878.5 L1498.6 1877.7 L1496.1 1876.8 L1493.7 1875.9 L1491.3 1874.9 L1488.8 1873.9 L1486.4 1872.8 L1484.6 1871.3 L1482.7 1869.8 L1480.9 1868.2 L1479.2 1866.6 L1477.4 1865.0 L1475.7 1863.3 L1474.0 1861.6 L1472.3 1859.8 L1470.7 1858.1 L1469.3 1856.1 L1467.9 1854.0 L1466.6 1852.0 L1465.3 1849.9 L1464.0 1847.8 L1462.8 1845.7 L1461.6 1843.6 L1460.5 1841.4 L1459.4 1839.2 L1458.3 1837.0 L1457.3 1834.8 L1456.3 1832.6 L1455.4 1830.3 L1454.5 1828.1 L1454.6 1825.5 L1454.8 1822.8 L1455.1 1820.3 L1455.4 1817.7 L1455.8 1815.2 L1456.2 1812.7 L1456.6 1810.2 L1457.1 1807.7 L1452.4 1806.4 L1447.7 1805.0 L1443.2 1808.5 L1438.7 1812.1 L1437.7 1809.6 L1436.8 1807.1 L1436.0 1804.6 L1435.1 1802.0 L1434.4 1799.5 L1433.6 1796.9 L1433.0 1794.3 L1433.4 1791.6 L1433.9 1788.9 L1434.5 1786.2 L1435.1 1783.5 L1435.7 1780.9 L1436.4 1778.3 L1436.4 1775.3 L1436.5 1772.3 L1436.7 1769.3 L1437.9 1766.8 L1439.1 1764.3 L1440.4 1761.9 L1441.8 1759.5 L1443.1 1757.1 L1439.4 1753.5 L1441.5 1751.3 L1443.7 1749.2 L1445.9 1747.1 L1448.1 1745.1 L1447.8 1742.3 L1447.5 1739.4 L1447.3 1736.5 L1447.1 1733.6 L1447.0 1730.7 L1446.0 1727.5 L1445.0 1724.3 L1444.2 1721.1 L1432.9 1716.5 L1421.7 1711.9 L1412.1 1707.4 L1402.6 1702.9 L1398.7 1697.5 L1394.9 1691.9 L1391.5 1684.6 L1388.3 1677.1 L1387.7 1670.7 L1387.3 1664.2 L1387.4 1658.9 L1387.5 1653.5 L1390.5 1662.4 L1391.9 1668.0 L1393.6 1673.6 L1395.3 1679.1 L1399.3 1682.8 L1401.1 1689.1 L1403.1 1695.3 L1408.8 1697.6 L1415.1 1696.5 L1421.4 1695.7 L1430.3 1697.5 L1439.1 1699.6 L1448.3 1703.4 L1457.5 1707.4 L1464.8 1715.7 L1466.6 1719.7 L1468.5 1723.7 L1469.0 1726.6 L1469.6 1729.5 L1470.3 1732.3 L1471.1 1735.1 L1471.9 1737.8 L1471.7 1739.9 L1471.5 1742.0 L1471.3 1744.1 L1471.2 1746.2 L1471.2 1748.3 L1471.1 1750.3 L1471.2 1752.4 L1475.1 1750.6 L1479.1 1749.0 L1481.3 1751.6 L1483.6 1754.1 L1486.0 1756.5 L1491.7 1758.4 L1494.8 1757.5 L1498.0 1756.6 L1501.1 1755.8 L1503.2 1754.6 L1505.4 1753.5 L1507.5 1752.4 L1509.6 1751.4 L1511.8 1750.6 L1513.3 1749.7 L1514.9 1748.9 L1516.5 1748.1 L1518.1 1747.4 L1519.7 1746.7 L1521.2 1746.1 L1522.8 1745.5 L1524.4 1745.0 L1526.0 1744.5 L1531.8 1746.4 L1531.8 1745.2 L1531.9 1743.9 L1532.0 1742.7 L1532.1 1741.4 L1532.3 1740.1 L1532.5 1738.8 L1532.7 1737.5 L1533.0 1736.2 L1533.3 1735.0 L1533.6 1733.7 L1533.9 1732.4 L1534.3 1731.1 L1534.7 1729.7 L1535.2 1728.4 L1535.6 1727.1 L1535.8 1725.3 L1535.9 1723.5 L1536.1 1721.6 L1536.4 1719.8 L1536.7 1717.9 L1537.1 1716.0 L1537.5 1714.1 L1538.0 1712.2 L1538.6 1710.3 L1539.2 1708.4 L1539.8 1706.5 L1540.5 1704.6 L1541.9 1702.9 L1539.9 1702.8 L1537.9 1702.8 L1535.9 1702.9 L1533.9 1703.1 L1531.8 1703.2 L1529.7 1703.5 L1524.7 1697.6 L1525.2 1694.7 L1525.8 1691.9 L1526.5 1689.0 L1527.3 1686.1 L1528.1 1683.2 L1529.1 1680.7 L1530.1 1678.2 L1531.1 1675.7 L1532.3 1673.2 L1533.5 1670.8 L1534.8 1668.3 L1535.9 1665.2 L1537.1 1662.0 L1538.4 1658.9 L1539.8 1655.8 L1541.3 1652.6 L1543.0 1649.5 L1544.7 1646.4 L1545.0 1636.5 L1547.0 1632.6 L1549.1 1628.8 L1551.4 1625.0 L1553.8 1621.2 L1556.5 1620.0 L1559.2 1618.8 L1561.9 1617.7 L1564.7 1616.6 L1567.5 1615.6 L1570.3 1614.7 L1573.9 1615.3 L1577.4 1616.0 L1580.9 1616.8 L1583.8 1615.7 L1586.7 1614.6 L1589.6 1613.5 L1592.6 1612.5 L1595.6 1611.6 L1598.6 1610.7 L1601.7 1609.9 L1604.8 1609.1 L1607.9 1608.4 L1611.1 1607.8 L1614.0 1608.6 L1616.9 1609.5 L1619.8 1610.5 L1622.7 1611.5 L1625.5 1612.5 L1628.3 1613.6 L1631.1 1614.8 L1633.9 1616.0 L1636.6 1617.2 L1639.3 1618.5 L1642.0 1619.8 L1644.6 1621.2 L1647.3 1622.6 L1650.2 1623.2 L1653.2 1623.8 L1656.1 1624.5 L1659.1 1625.3 L1662.0 1626.1 L1664.9 1626.9 L1667.9 1627.8 L1672.4 1626.9 L1677.0 1626.2 L1681.7 1625.5 L1686.5 1625.0 L1688.3 1628.0 L1690.1 1631.0 L1691.8 1634.0 L1693.5 1637.0 L1695.0 1640.0 L1699.4 1640.3 L1703.8 1640.6 L1708.2 1641.0 L1712.7 1641.6 L1717.2 1642.3 L1720.9 1643.3 L1724.7 1644.4 L1728.4 1645.6 L1732.2 1646.8 L1736.0 1648.2 L1739.7 1649.6 L1743.5 1651.2 L1747.2 1652.8 L1751.0 1654.5 L1752.2 1658.2 L1753.4 1661.9 L1754.6 1665.6 L1755.6 1669.2 L1755.2 1673.6 L1754.7 1678.0 L1754.2 1682.3 L1753.5 1686.5 L1754.7 1689.7 L1755.9 1693.0 L1757.1 1696.2 L1758.1 1699.5 L1759.2 1702.7 L1760.1 1706.0 L1761.0 1709.3 L1749.8 1711.9 L1738.7 1714.7 L1733.7 1719.8 L1728.6 1724.7 L1733.6 1725.8 L1738.6 1727.1 L1743.6 1728.5 L1748.7 1730.2 L1752.4 1732.3 L1756.2 1734.6 L1759.9 1737.0 L1763.6 1739.5 L1767.3 1742.1 L1770.9 1744.8 L1773.1 1747.9 L1775.2 1751.0 L1777.3 1754.1 L1779.3 1757.4 L1781.3 1760.6 L1783.2 1764.0 L1785.1 1767.4 L1786.9 1770.9 L1786.0 1774.5 L1785.0 1778.1 L1784.0 1781.7 L1782.9 1785.2 L1781.7 1788.7 L1780.5 1792.1 L1779.2 1795.5 L1780.6 1799.2 L1781.9 1802.9 L1783.2 1806.6 L1784.4 1810.5 L1785.6 1814.3 L1786.6 1818.2 L1787.6 1822.2 L1788.5 1826.2 L1785.4 1829.2 L1782.3 1832.2 L1779.1 1835.0 L1775.9 1837.7 L1772.6 1840.4 L1773.1 1844.3 L1773.6 1848.3 L1773.9 1852.3 L1774.2 1856.4 L1774.4 1860.5 L1771.6 1863.2 L1768.7 1865.8 L1765.8 1868.4 L1762.8 1870.9 L1759.8 1873.3 L1756.8 1875.6 L1753.8 1877.9 L1752.5 1881.2 L1751.2 1884.5 L1749.8 1887.8 L1748.4 1891.1 L1746.9 1894.3 L1745.3 1897.5 L1743.6 1900.8 L1741.9 1904.0 L1740.2 1907.1 L1738.3 1910.3 L1737.4 1914.8 L1736.3 1919.3 L1735.1 1923.8 L1733.7 1928.3 L1724.6 1927.3 L1721.8 1929.7 L1719.0 1932.0 L1716.1 1934.2 L1713.2 1936.4 L1710.3 1938.5 L1707.3 1940.5 L1704.3 1942.6 L1701.3 1944.5 L1698.2 1946.4 L1693.2 1945.2 L1688.2 1943.9 L1683.3 1942.5 L1679.4 1942.6 L1675.6 1942.7 L1671.8 1942.7 L1668.1 1942.6 L1664.4 1942.4 L1660.7 1942.2 L1657.0 1941.9 L1653.4 1941.5 L1649.8 1941.0 L1646.3 1940.4 L1642.8 1939.8 L1639.4 1939.4 L1636.0 1938.8 L1632.7 1938.2 L1629.4 1937.5 L1626.2 1936.8 L1623.0 1936.0 L1619.9 1935.2 L1616.8 1934.3 L1613.7 1933.3 L1610.7 1932.2 L1607.7 1931.1 L1609.9 1927.8 L1612.0 1924.5 L1614.0 1921.2 L1615.9 1917.8 L1617.6 1914.4 L1619.3 1911.0 L1617.5 1900.4 L1615.6 1890.0 L1613.6 1879.6 L1610.9 1878.0 L1608.3 1876.3 L1605.7 1874.6 L1606.7 1871.2 L1607.5 1867.8 L1608.2 1864.5 L1608.8 1861.1 L1609.3 1857.8 L1609.7 1854.4 L1609.9 1851.1 L1607.9 1849.3 L1605.9 1847.5 L1603.9 1845.6 L1602.1 1843.7 L1600.3 1841.7 L1598.6 1839.7 L1596.9 1837.7 L1595.4 1835.6 L1593.9 1833.4 L1592.5 1831.3 L1591.4 1830.8 L1590.4 1830.3 L1589.4 1829.7 L1588.4 1829.1 L1587.4 1828.6 L1586.5 1828.0 L1585.5 1827.3 L1584.6 1826.7 L1583.8 1826.0 L1582.9 1825.4M1554.3 1873.9 L1551.8 1874.9 L1549.2 1875.9 L1548.0 1870.9 L1552.5 1866.2 L1553.9 1868.4 L1555.3 1870.6 L1554.3 1873.9M1431.5 1736.9 L1424.5 1731.9 L1417.6 1726.6 L1410.8 1721.1 L1410.8 1715.7 L1420.9 1716.1 L1430.9 1716.9 L1441.3 1719.0 L1440.2 1721.7 L1439.2 1724.4 L1438.2 1727.1 L1437.2 1729.8 L1435.3 1732.1 L1433.4 1734.5 L1431.5 1736.9M1515.8 1729.1 L1513.6 1724.9 L1511.5 1720.6 L1508.5 1715.6 L1505.7 1710.4 L1506.6 1708.0 L1507.7 1705.6 L1511.6 1706.5 L1515.5 1707.5 L1522.4 1713.8 L1522.5 1716.1 L1522.7 1718.4 L1522.9 1720.6 L1523.1 1722.8 L1522.1 1724.0 L1521.1 1725.2 L1520.0 1726.4 L1519.1 1727.6 L1518.1 1728.8 L1517.2 1730.1 L1515.8 1729.1M1504.6 1743.3 L1504.4 1741.3 L1504.2 1739.2 L1504.1 1737.1 L1504.0 1735.0 L1504.8 1733.6 L1508.2 1734.5 L1513.0 1739.9 L1511.5 1740.8 L1510.1 1741.8 L1508.6 1742.8 L1507.2 1743.8 L1504.6 1743.3" fill="none" stroke="#000" stroke-width="2" stroke-linejoin="round"/>
<circle cx="1582.9" cy="1778.0" r="401.2" fill="none" stroke="#000" stroke-width="1.6"/>
<circle cx="1582.9" cy="1778.0" r="259.5" fill="none" stroke="#000" stroke-width="1.6"/>
<circle cx="1582.9" cy="1778.0" r="127.5" fill="none" stroke="#000" stroke-width="1.6"/>
<path d="M1582.9 1778.0L1582.9 1314.4M1582.9 1778.0L1984.4 1546.2M1582.9 1778.0L1984.4 2009.8M1582.9 1778.0L1582.9 2241.6M1582.9 1778.0L1181.4 2009.8M1582.9 1778.0L1181.4 1546.2" stroke="#000" stroke-width="1.6" fill="none"/>
<rect x="1581.4" y="1776.5" width="3" height="3" fill="#fff"/>
</g>
<circle cx="1582.9" cy="1778.0" r="463.6" fill="none" stroke="#000" stroke-width="3.2"/>
</svg>
</body></html>
